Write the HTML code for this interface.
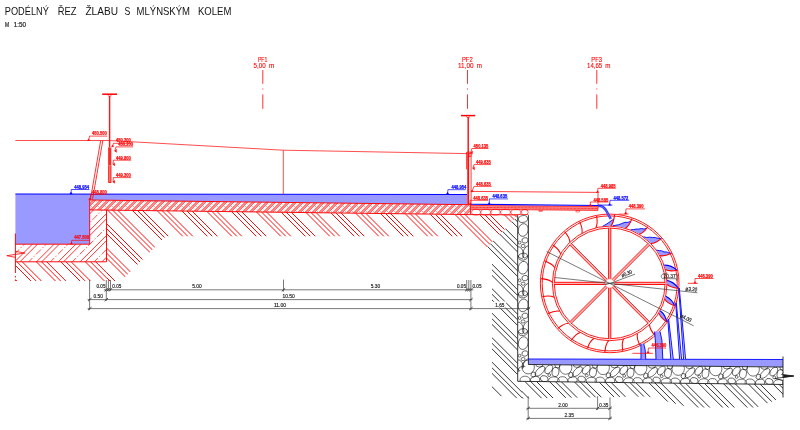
<!DOCTYPE html><html><head><meta charset="utf-8"><title>Podélný řez žlabu s mlýnským kolem</title><style>html,body{margin:0;padding:0;background:#fff;}body{width:800px;height:430px;overflow:hidden;font-family:"Liberation Sans",sans-serif;}svg{display:block;will-change:transform;transform:translateZ(0);}</style></head><body><svg width="800" height="430" viewBox="0 0 800 430" font-family="'Liberation Sans', sans-serif" shape-rendering="geometricPrecision"><defs><clipPath id="cSlab"><polygon points="89.70,200.00 470.40,204.70 470.40,214.60 89.70,209.90"/></clipPath><clipPath id="cLow"><polygon points="15.40,244.20 89.70,244.20 89.70,209.90 106.50,210.11 106.50,261.80 15.40,261.80"/></clipPath><clipPath id="cG1"><polygon points="106.50,210.11 517.70,215.48 517.70,216.30 486.60,247.40 475.40,236.20 165.80,236.20 121.00,281.00 106.50,281.00"/></clipPath><clipPath id="cG0"><polygon points="15.40,261.80 106.50,261.80 106.50,281.00 15.40,281.00"/></clipPath><clipPath id="cGB"><polygon points="517.70,216.30 486.60,247.40 492.00,252.80 492.00,390.50 497.00,395.50 521.00,398.50 522.00,398.50 522.00,381.30 517.70,381.30"/></clipPath><clipPath id="cGF"><polygon points="522.00,381.30 522.00,398.50 648.00,396.50 690.00,407.50 756.00,407.50 783.00,397.50 783.00,384.48"/></clipPath><clipPath id="cWall"><polygon points="517.70,215.00 528.40,215.00 528.40,364.50 783.00,367.05 783.00,384.48 517.70,381.30"/></clipPath><clipPath id="cWallV"><polygon points="517.70,215.00 528.40,215.00 528.40,363.50 517.70,373.50"/></clipPath></defs><rect x="15.4" y="194.0" width="74.30" height="50.20" fill="#9999ff"/>
<polygon points="89.70,194.00 467.00,194.50 467.00,204.66 89.70,200.00" stroke="none" stroke-width="0" fill="#9999ff" />
<polygon points="528.40,359.00 783.00,359.50 783.00,367.05 528.40,364.50" stroke="none" stroke-width="0" fill="#9999ff" />
<g clip-path="url(#cSlab)">
<line x1="62.50" y1="217.00" x2="81.50" y2="198.00" stroke="#ff0000" stroke-width="1.0" />
<line x1="64.60" y1="217.00" x2="83.60" y2="198.00" stroke="#ff0000" stroke-width="1.0" />
<line x1="67.10" y1="217.00" x2="86.10" y2="198.00" stroke="#ff0000" stroke-width="0.4" stroke-dasharray="1.6 2.4 0.5 2.4"/>
<line x1="69.50" y1="217.00" x2="88.50" y2="198.00" stroke="#ff0000" stroke-width="1.0" />
<line x1="71.60" y1="217.00" x2="90.60" y2="198.00" stroke="#ff0000" stroke-width="1.0" />
<line x1="74.10" y1="217.00" x2="93.10" y2="198.00" stroke="#ff0000" stroke-width="0.4" stroke-dasharray="1.6 2.4 0.5 2.4"/>
<line x1="76.50" y1="217.00" x2="95.50" y2="198.00" stroke="#ff0000" stroke-width="1.0" />
<line x1="78.60" y1="217.00" x2="97.60" y2="198.00" stroke="#ff0000" stroke-width="1.0" />
<line x1="81.10" y1="217.00" x2="100.10" y2="198.00" stroke="#ff0000" stroke-width="0.4" stroke-dasharray="1.6 2.4 0.5 2.4"/>
<line x1="83.50" y1="217.00" x2="102.50" y2="198.00" stroke="#ff0000" stroke-width="1.0" />
<line x1="85.60" y1="217.00" x2="104.60" y2="198.00" stroke="#ff0000" stroke-width="1.0" />
<line x1="88.10" y1="217.00" x2="107.10" y2="198.00" stroke="#ff0000" stroke-width="0.4" stroke-dasharray="1.6 2.4 0.5 2.4"/>
<line x1="90.50" y1="217.00" x2="109.50" y2="198.00" stroke="#ff0000" stroke-width="1.0" />
<line x1="92.60" y1="217.00" x2="111.60" y2="198.00" stroke="#ff0000" stroke-width="1.0" />
<line x1="95.10" y1="217.00" x2="114.10" y2="198.00" stroke="#ff0000" stroke-width="0.4" stroke-dasharray="1.6 2.4 0.5 2.4"/>
<line x1="97.50" y1="217.00" x2="116.50" y2="198.00" stroke="#ff0000" stroke-width="1.0" />
<line x1="99.60" y1="217.00" x2="118.60" y2="198.00" stroke="#ff0000" stroke-width="1.0" />
<line x1="102.10" y1="217.00" x2="121.10" y2="198.00" stroke="#ff0000" stroke-width="0.4" stroke-dasharray="1.6 2.4 0.5 2.4"/>
<line x1="104.50" y1="217.00" x2="123.50" y2="198.00" stroke="#ff0000" stroke-width="1.0" />
<line x1="106.60" y1="217.00" x2="125.60" y2="198.00" stroke="#ff0000" stroke-width="1.0" />
<line x1="109.10" y1="217.00" x2="128.10" y2="198.00" stroke="#ff0000" stroke-width="0.4" stroke-dasharray="1.6 2.4 0.5 2.4"/>
<line x1="111.50" y1="217.00" x2="130.50" y2="198.00" stroke="#ff0000" stroke-width="1.0" />
<line x1="113.60" y1="217.00" x2="132.60" y2="198.00" stroke="#ff0000" stroke-width="1.0" />
<line x1="116.10" y1="217.00" x2="135.10" y2="198.00" stroke="#ff0000" stroke-width="0.4" stroke-dasharray="1.6 2.4 0.5 2.4"/>
<line x1="118.50" y1="217.00" x2="137.50" y2="198.00" stroke="#ff0000" stroke-width="1.0" />
<line x1="120.60" y1="217.00" x2="139.60" y2="198.00" stroke="#ff0000" stroke-width="1.0" />
<line x1="123.10" y1="217.00" x2="142.10" y2="198.00" stroke="#ff0000" stroke-width="0.4" stroke-dasharray="1.6 2.4 0.5 2.4"/>
<line x1="125.50" y1="217.00" x2="144.50" y2="198.00" stroke="#ff0000" stroke-width="1.0" />
<line x1="127.60" y1="217.00" x2="146.60" y2="198.00" stroke="#ff0000" stroke-width="1.0" />
<line x1="130.10" y1="217.00" x2="149.10" y2="198.00" stroke="#ff0000" stroke-width="0.4" stroke-dasharray="1.6 2.4 0.5 2.4"/>
<line x1="132.50" y1="217.00" x2="151.50" y2="198.00" stroke="#ff0000" stroke-width="1.0" />
<line x1="134.60" y1="217.00" x2="153.60" y2="198.00" stroke="#ff0000" stroke-width="1.0" />
<line x1="137.10" y1="217.00" x2="156.10" y2="198.00" stroke="#ff0000" stroke-width="0.4" stroke-dasharray="1.6 2.4 0.5 2.4"/>
<line x1="139.50" y1="217.00" x2="158.50" y2="198.00" stroke="#ff0000" stroke-width="1.0" />
<line x1="141.60" y1="217.00" x2="160.60" y2="198.00" stroke="#ff0000" stroke-width="1.0" />
<line x1="144.10" y1="217.00" x2="163.10" y2="198.00" stroke="#ff0000" stroke-width="0.4" stroke-dasharray="1.6 2.4 0.5 2.4"/>
<line x1="146.50" y1="217.00" x2="165.50" y2="198.00" stroke="#ff0000" stroke-width="1.0" />
<line x1="148.60" y1="217.00" x2="167.60" y2="198.00" stroke="#ff0000" stroke-width="1.0" />
<line x1="151.10" y1="217.00" x2="170.10" y2="198.00" stroke="#ff0000" stroke-width="0.4" stroke-dasharray="1.6 2.4 0.5 2.4"/>
<line x1="153.50" y1="217.00" x2="172.50" y2="198.00" stroke="#ff0000" stroke-width="1.0" />
<line x1="155.60" y1="217.00" x2="174.60" y2="198.00" stroke="#ff0000" stroke-width="1.0" />
<line x1="158.10" y1="217.00" x2="177.10" y2="198.00" stroke="#ff0000" stroke-width="0.4" stroke-dasharray="1.6 2.4 0.5 2.4"/>
<line x1="160.50" y1="217.00" x2="179.50" y2="198.00" stroke="#ff0000" stroke-width="1.0" />
<line x1="162.60" y1="217.00" x2="181.60" y2="198.00" stroke="#ff0000" stroke-width="1.0" />
<line x1="165.10" y1="217.00" x2="184.10" y2="198.00" stroke="#ff0000" stroke-width="0.4" stroke-dasharray="1.6 2.4 0.5 2.4"/>
<line x1="167.50" y1="217.00" x2="186.50" y2="198.00" stroke="#ff0000" stroke-width="1.0" />
<line x1="169.60" y1="217.00" x2="188.60" y2="198.00" stroke="#ff0000" stroke-width="1.0" />
<line x1="172.10" y1="217.00" x2="191.10" y2="198.00" stroke="#ff0000" stroke-width="0.4" stroke-dasharray="1.6 2.4 0.5 2.4"/>
<line x1="174.50" y1="217.00" x2="193.50" y2="198.00" stroke="#ff0000" stroke-width="1.0" />
<line x1="176.60" y1="217.00" x2="195.60" y2="198.00" stroke="#ff0000" stroke-width="1.0" />
<line x1="179.10" y1="217.00" x2="198.10" y2="198.00" stroke="#ff0000" stroke-width="0.4" stroke-dasharray="1.6 2.4 0.5 2.4"/>
<line x1="181.50" y1="217.00" x2="200.50" y2="198.00" stroke="#ff0000" stroke-width="1.0" />
<line x1="183.60" y1="217.00" x2="202.60" y2="198.00" stroke="#ff0000" stroke-width="1.0" />
<line x1="186.10" y1="217.00" x2="205.10" y2="198.00" stroke="#ff0000" stroke-width="0.4" stroke-dasharray="1.6 2.4 0.5 2.4"/>
<line x1="188.50" y1="217.00" x2="207.50" y2="198.00" stroke="#ff0000" stroke-width="1.0" />
<line x1="190.60" y1="217.00" x2="209.60" y2="198.00" stroke="#ff0000" stroke-width="1.0" />
<line x1="193.10" y1="217.00" x2="212.10" y2="198.00" stroke="#ff0000" stroke-width="0.4" stroke-dasharray="1.6 2.4 0.5 2.4"/>
<line x1="195.50" y1="217.00" x2="214.50" y2="198.00" stroke="#ff0000" stroke-width="1.0" />
<line x1="197.60" y1="217.00" x2="216.60" y2="198.00" stroke="#ff0000" stroke-width="1.0" />
<line x1="200.10" y1="217.00" x2="219.10" y2="198.00" stroke="#ff0000" stroke-width="0.4" stroke-dasharray="1.6 2.4 0.5 2.4"/>
<line x1="202.50" y1="217.00" x2="221.50" y2="198.00" stroke="#ff0000" stroke-width="1.0" />
<line x1="204.60" y1="217.00" x2="223.60" y2="198.00" stroke="#ff0000" stroke-width="1.0" />
<line x1="207.10" y1="217.00" x2="226.10" y2="198.00" stroke="#ff0000" stroke-width="0.4" stroke-dasharray="1.6 2.4 0.5 2.4"/>
<line x1="209.50" y1="217.00" x2="228.50" y2="198.00" stroke="#ff0000" stroke-width="1.0" />
<line x1="211.60" y1="217.00" x2="230.60" y2="198.00" stroke="#ff0000" stroke-width="1.0" />
<line x1="214.10" y1="217.00" x2="233.10" y2="198.00" stroke="#ff0000" stroke-width="0.4" stroke-dasharray="1.6 2.4 0.5 2.4"/>
<line x1="216.50" y1="217.00" x2="235.50" y2="198.00" stroke="#ff0000" stroke-width="1.0" />
<line x1="218.60" y1="217.00" x2="237.60" y2="198.00" stroke="#ff0000" stroke-width="1.0" />
<line x1="221.10" y1="217.00" x2="240.10" y2="198.00" stroke="#ff0000" stroke-width="0.4" stroke-dasharray="1.6 2.4 0.5 2.4"/>
<line x1="223.50" y1="217.00" x2="242.50" y2="198.00" stroke="#ff0000" stroke-width="1.0" />
<line x1="225.60" y1="217.00" x2="244.60" y2="198.00" stroke="#ff0000" stroke-width="1.0" />
<line x1="228.10" y1="217.00" x2="247.10" y2="198.00" stroke="#ff0000" stroke-width="0.4" stroke-dasharray="1.6 2.4 0.5 2.4"/>
<line x1="230.50" y1="217.00" x2="249.50" y2="198.00" stroke="#ff0000" stroke-width="1.0" />
<line x1="232.60" y1="217.00" x2="251.60" y2="198.00" stroke="#ff0000" stroke-width="1.0" />
<line x1="235.10" y1="217.00" x2="254.10" y2="198.00" stroke="#ff0000" stroke-width="0.4" stroke-dasharray="1.6 2.4 0.5 2.4"/>
<line x1="237.50" y1="217.00" x2="256.50" y2="198.00" stroke="#ff0000" stroke-width="1.0" />
<line x1="239.60" y1="217.00" x2="258.60" y2="198.00" stroke="#ff0000" stroke-width="1.0" />
<line x1="242.10" y1="217.00" x2="261.10" y2="198.00" stroke="#ff0000" stroke-width="0.4" stroke-dasharray="1.6 2.4 0.5 2.4"/>
<line x1="244.50" y1="217.00" x2="263.50" y2="198.00" stroke="#ff0000" stroke-width="1.0" />
<line x1="246.60" y1="217.00" x2="265.60" y2="198.00" stroke="#ff0000" stroke-width="1.0" />
<line x1="249.10" y1="217.00" x2="268.10" y2="198.00" stroke="#ff0000" stroke-width="0.4" stroke-dasharray="1.6 2.4 0.5 2.4"/>
<line x1="251.50" y1="217.00" x2="270.50" y2="198.00" stroke="#ff0000" stroke-width="1.0" />
<line x1="253.60" y1="217.00" x2="272.60" y2="198.00" stroke="#ff0000" stroke-width="1.0" />
<line x1="256.10" y1="217.00" x2="275.10" y2="198.00" stroke="#ff0000" stroke-width="0.4" stroke-dasharray="1.6 2.4 0.5 2.4"/>
<line x1="258.50" y1="217.00" x2="277.50" y2="198.00" stroke="#ff0000" stroke-width="1.0" />
<line x1="260.60" y1="217.00" x2="279.60" y2="198.00" stroke="#ff0000" stroke-width="1.0" />
<line x1="263.10" y1="217.00" x2="282.10" y2="198.00" stroke="#ff0000" stroke-width="0.4" stroke-dasharray="1.6 2.4 0.5 2.4"/>
<line x1="265.50" y1="217.00" x2="284.50" y2="198.00" stroke="#ff0000" stroke-width="1.0" />
<line x1="267.60" y1="217.00" x2="286.60" y2="198.00" stroke="#ff0000" stroke-width="1.0" />
<line x1="270.10" y1="217.00" x2="289.10" y2="198.00" stroke="#ff0000" stroke-width="0.4" stroke-dasharray="1.6 2.4 0.5 2.4"/>
<line x1="272.50" y1="217.00" x2="291.50" y2="198.00" stroke="#ff0000" stroke-width="1.0" />
<line x1="274.60" y1="217.00" x2="293.60" y2="198.00" stroke="#ff0000" stroke-width="1.0" />
<line x1="277.10" y1="217.00" x2="296.10" y2="198.00" stroke="#ff0000" stroke-width="0.4" stroke-dasharray="1.6 2.4 0.5 2.4"/>
<line x1="279.50" y1="217.00" x2="298.50" y2="198.00" stroke="#ff0000" stroke-width="1.0" />
<line x1="281.60" y1="217.00" x2="300.60" y2="198.00" stroke="#ff0000" stroke-width="1.0" />
<line x1="284.10" y1="217.00" x2="303.10" y2="198.00" stroke="#ff0000" stroke-width="0.4" stroke-dasharray="1.6 2.4 0.5 2.4"/>
<line x1="286.50" y1="217.00" x2="305.50" y2="198.00" stroke="#ff0000" stroke-width="1.0" />
<line x1="288.60" y1="217.00" x2="307.60" y2="198.00" stroke="#ff0000" stroke-width="1.0" />
<line x1="291.10" y1="217.00" x2="310.10" y2="198.00" stroke="#ff0000" stroke-width="0.4" stroke-dasharray="1.6 2.4 0.5 2.4"/>
<line x1="293.50" y1="217.00" x2="312.50" y2="198.00" stroke="#ff0000" stroke-width="1.0" />
<line x1="295.60" y1="217.00" x2="314.60" y2="198.00" stroke="#ff0000" stroke-width="1.0" />
<line x1="298.10" y1="217.00" x2="317.10" y2="198.00" stroke="#ff0000" stroke-width="0.4" stroke-dasharray="1.6 2.4 0.5 2.4"/>
<line x1="300.50" y1="217.00" x2="319.50" y2="198.00" stroke="#ff0000" stroke-width="1.0" />
<line x1="302.60" y1="217.00" x2="321.60" y2="198.00" stroke="#ff0000" stroke-width="1.0" />
<line x1="305.10" y1="217.00" x2="324.10" y2="198.00" stroke="#ff0000" stroke-width="0.4" stroke-dasharray="1.6 2.4 0.5 2.4"/>
<line x1="307.50" y1="217.00" x2="326.50" y2="198.00" stroke="#ff0000" stroke-width="1.0" />
<line x1="309.60" y1="217.00" x2="328.60" y2="198.00" stroke="#ff0000" stroke-width="1.0" />
<line x1="312.10" y1="217.00" x2="331.10" y2="198.00" stroke="#ff0000" stroke-width="0.4" stroke-dasharray="1.6 2.4 0.5 2.4"/>
<line x1="314.50" y1="217.00" x2="333.50" y2="198.00" stroke="#ff0000" stroke-width="1.0" />
<line x1="316.60" y1="217.00" x2="335.60" y2="198.00" stroke="#ff0000" stroke-width="1.0" />
<line x1="319.10" y1="217.00" x2="338.10" y2="198.00" stroke="#ff0000" stroke-width="0.4" stroke-dasharray="1.6 2.4 0.5 2.4"/>
<line x1="321.50" y1="217.00" x2="340.50" y2="198.00" stroke="#ff0000" stroke-width="1.0" />
<line x1="323.60" y1="217.00" x2="342.60" y2="198.00" stroke="#ff0000" stroke-width="1.0" />
<line x1="326.10" y1="217.00" x2="345.10" y2="198.00" stroke="#ff0000" stroke-width="0.4" stroke-dasharray="1.6 2.4 0.5 2.4"/>
<line x1="328.50" y1="217.00" x2="347.50" y2="198.00" stroke="#ff0000" stroke-width="1.0" />
<line x1="330.60" y1="217.00" x2="349.60" y2="198.00" stroke="#ff0000" stroke-width="1.0" />
<line x1="333.10" y1="217.00" x2="352.10" y2="198.00" stroke="#ff0000" stroke-width="0.4" stroke-dasharray="1.6 2.4 0.5 2.4"/>
<line x1="335.50" y1="217.00" x2="354.50" y2="198.00" stroke="#ff0000" stroke-width="1.0" />
<line x1="337.60" y1="217.00" x2="356.60" y2="198.00" stroke="#ff0000" stroke-width="1.0" />
<line x1="340.10" y1="217.00" x2="359.10" y2="198.00" stroke="#ff0000" stroke-width="0.4" stroke-dasharray="1.6 2.4 0.5 2.4"/>
<line x1="342.50" y1="217.00" x2="361.50" y2="198.00" stroke="#ff0000" stroke-width="1.0" />
<line x1="344.60" y1="217.00" x2="363.60" y2="198.00" stroke="#ff0000" stroke-width="1.0" />
<line x1="347.10" y1="217.00" x2="366.10" y2="198.00" stroke="#ff0000" stroke-width="0.4" stroke-dasharray="1.6 2.4 0.5 2.4"/>
<line x1="349.50" y1="217.00" x2="368.50" y2="198.00" stroke="#ff0000" stroke-width="1.0" />
<line x1="351.60" y1="217.00" x2="370.60" y2="198.00" stroke="#ff0000" stroke-width="1.0" />
<line x1="354.10" y1="217.00" x2="373.10" y2="198.00" stroke="#ff0000" stroke-width="0.4" stroke-dasharray="1.6 2.4 0.5 2.4"/>
<line x1="356.50" y1="217.00" x2="375.50" y2="198.00" stroke="#ff0000" stroke-width="1.0" />
<line x1="358.60" y1="217.00" x2="377.60" y2="198.00" stroke="#ff0000" stroke-width="1.0" />
<line x1="361.10" y1="217.00" x2="380.10" y2="198.00" stroke="#ff0000" stroke-width="0.4" stroke-dasharray="1.6 2.4 0.5 2.4"/>
<line x1="363.50" y1="217.00" x2="382.50" y2="198.00" stroke="#ff0000" stroke-width="1.0" />
<line x1="365.60" y1="217.00" x2="384.60" y2="198.00" stroke="#ff0000" stroke-width="1.0" />
<line x1="368.10" y1="217.00" x2="387.10" y2="198.00" stroke="#ff0000" stroke-width="0.4" stroke-dasharray="1.6 2.4 0.5 2.4"/>
<line x1="370.50" y1="217.00" x2="389.50" y2="198.00" stroke="#ff0000" stroke-width="1.0" />
<line x1="372.60" y1="217.00" x2="391.60" y2="198.00" stroke="#ff0000" stroke-width="1.0" />
<line x1="375.10" y1="217.00" x2="394.10" y2="198.00" stroke="#ff0000" stroke-width="0.4" stroke-dasharray="1.6 2.4 0.5 2.4"/>
<line x1="377.50" y1="217.00" x2="396.50" y2="198.00" stroke="#ff0000" stroke-width="1.0" />
<line x1="379.60" y1="217.00" x2="398.60" y2="198.00" stroke="#ff0000" stroke-width="1.0" />
<line x1="382.10" y1="217.00" x2="401.10" y2="198.00" stroke="#ff0000" stroke-width="0.4" stroke-dasharray="1.6 2.4 0.5 2.4"/>
<line x1="384.50" y1="217.00" x2="403.50" y2="198.00" stroke="#ff0000" stroke-width="1.0" />
<line x1="386.60" y1="217.00" x2="405.60" y2="198.00" stroke="#ff0000" stroke-width="1.0" />
<line x1="389.10" y1="217.00" x2="408.10" y2="198.00" stroke="#ff0000" stroke-width="0.4" stroke-dasharray="1.6 2.4 0.5 2.4"/>
<line x1="391.50" y1="217.00" x2="410.50" y2="198.00" stroke="#ff0000" stroke-width="1.0" />
<line x1="393.60" y1="217.00" x2="412.60" y2="198.00" stroke="#ff0000" stroke-width="1.0" />
<line x1="396.10" y1="217.00" x2="415.10" y2="198.00" stroke="#ff0000" stroke-width="0.4" stroke-dasharray="1.6 2.4 0.5 2.4"/>
<line x1="398.50" y1="217.00" x2="417.50" y2="198.00" stroke="#ff0000" stroke-width="1.0" />
<line x1="400.60" y1="217.00" x2="419.60" y2="198.00" stroke="#ff0000" stroke-width="1.0" />
<line x1="403.10" y1="217.00" x2="422.10" y2="198.00" stroke="#ff0000" stroke-width="0.4" stroke-dasharray="1.6 2.4 0.5 2.4"/>
<line x1="405.50" y1="217.00" x2="424.50" y2="198.00" stroke="#ff0000" stroke-width="1.0" />
<line x1="407.60" y1="217.00" x2="426.60" y2="198.00" stroke="#ff0000" stroke-width="1.0" />
<line x1="410.10" y1="217.00" x2="429.10" y2="198.00" stroke="#ff0000" stroke-width="0.4" stroke-dasharray="1.6 2.4 0.5 2.4"/>
<line x1="412.50" y1="217.00" x2="431.50" y2="198.00" stroke="#ff0000" stroke-width="1.0" />
<line x1="414.60" y1="217.00" x2="433.60" y2="198.00" stroke="#ff0000" stroke-width="1.0" />
<line x1="417.10" y1="217.00" x2="436.10" y2="198.00" stroke="#ff0000" stroke-width="0.4" stroke-dasharray="1.6 2.4 0.5 2.4"/>
<line x1="419.50" y1="217.00" x2="438.50" y2="198.00" stroke="#ff0000" stroke-width="1.0" />
<line x1="421.60" y1="217.00" x2="440.60" y2="198.00" stroke="#ff0000" stroke-width="1.0" />
<line x1="424.10" y1="217.00" x2="443.10" y2="198.00" stroke="#ff0000" stroke-width="0.4" stroke-dasharray="1.6 2.4 0.5 2.4"/>
<line x1="426.50" y1="217.00" x2="445.50" y2="198.00" stroke="#ff0000" stroke-width="1.0" />
<line x1="428.60" y1="217.00" x2="447.60" y2="198.00" stroke="#ff0000" stroke-width="1.0" />
<line x1="431.10" y1="217.00" x2="450.10" y2="198.00" stroke="#ff0000" stroke-width="0.4" stroke-dasharray="1.6 2.4 0.5 2.4"/>
<line x1="433.50" y1="217.00" x2="452.50" y2="198.00" stroke="#ff0000" stroke-width="1.0" />
<line x1="435.60" y1="217.00" x2="454.60" y2="198.00" stroke="#ff0000" stroke-width="1.0" />
<line x1="438.10" y1="217.00" x2="457.10" y2="198.00" stroke="#ff0000" stroke-width="0.4" stroke-dasharray="1.6 2.4 0.5 2.4"/>
<line x1="440.50" y1="217.00" x2="459.50" y2="198.00" stroke="#ff0000" stroke-width="1.0" />
<line x1="442.60" y1="217.00" x2="461.60" y2="198.00" stroke="#ff0000" stroke-width="1.0" />
<line x1="445.10" y1="217.00" x2="464.10" y2="198.00" stroke="#ff0000" stroke-width="0.4" stroke-dasharray="1.6 2.4 0.5 2.4"/>
<line x1="447.50" y1="217.00" x2="466.50" y2="198.00" stroke="#ff0000" stroke-width="1.0" />
<line x1="449.60" y1="217.00" x2="468.60" y2="198.00" stroke="#ff0000" stroke-width="1.0" />
<line x1="452.10" y1="217.00" x2="471.10" y2="198.00" stroke="#ff0000" stroke-width="0.4" stroke-dasharray="1.6 2.4 0.5 2.4"/>
<line x1="454.50" y1="217.00" x2="473.50" y2="198.00" stroke="#ff0000" stroke-width="1.0" />
<line x1="456.60" y1="217.00" x2="475.60" y2="198.00" stroke="#ff0000" stroke-width="1.0" />
<line x1="459.10" y1="217.00" x2="478.10" y2="198.00" stroke="#ff0000" stroke-width="0.4" stroke-dasharray="1.6 2.4 0.5 2.4"/>
<line x1="461.50" y1="217.00" x2="480.50" y2="198.00" stroke="#ff0000" stroke-width="1.0" />
<line x1="463.60" y1="217.00" x2="482.60" y2="198.00" stroke="#ff0000" stroke-width="1.0" />
<line x1="466.10" y1="217.00" x2="485.10" y2="198.00" stroke="#ff0000" stroke-width="0.4" stroke-dasharray="1.6 2.4 0.5 2.4"/>
<line x1="468.50" y1="217.00" x2="487.50" y2="198.00" stroke="#ff0000" stroke-width="1.0" />
<line x1="470.60" y1="217.00" x2="489.60" y2="198.00" stroke="#ff0000" stroke-width="1.0" />
<line x1="473.10" y1="217.00" x2="492.10" y2="198.00" stroke="#ff0000" stroke-width="0.4" stroke-dasharray="1.6 2.4 0.5 2.4"/>
</g>
<g clip-path="url(#cLow)">
<line x1="-51.90" y1="263.00" x2="3.10" y2="208.00" stroke="#ff0000" stroke-width="0.8" />
<line x1="-46.70" y1="263.00" x2="8.30" y2="208.00" stroke="#ff0000" stroke-width="0.8" />
<line x1="-37.90" y1="263.00" x2="17.10" y2="208.00" stroke="#ff0000" stroke-width="0.7" stroke-dasharray="7 2 1.2 2"/>
<line x1="-30.10" y1="263.00" x2="24.90" y2="208.00" stroke="#ff0000" stroke-width="0.8" />
<line x1="-24.90" y1="263.00" x2="30.10" y2="208.00" stroke="#ff0000" stroke-width="0.8" />
<line x1="-16.10" y1="263.00" x2="38.90" y2="208.00" stroke="#ff0000" stroke-width="0.7" stroke-dasharray="7 2 1.2 2"/>
<line x1="-8.30" y1="263.00" x2="46.70" y2="208.00" stroke="#ff0000" stroke-width="0.8" />
<line x1="-3.10" y1="263.00" x2="51.90" y2="208.00" stroke="#ff0000" stroke-width="0.8" />
<line x1="5.70" y1="263.00" x2="60.70" y2="208.00" stroke="#ff0000" stroke-width="0.7" stroke-dasharray="7 2 1.2 2"/>
<line x1="13.50" y1="263.00" x2="68.50" y2="208.00" stroke="#ff0000" stroke-width="0.8" />
<line x1="18.70" y1="263.00" x2="73.70" y2="208.00" stroke="#ff0000" stroke-width="0.8" />
<line x1="27.50" y1="263.00" x2="82.50" y2="208.00" stroke="#ff0000" stroke-width="0.7" stroke-dasharray="7 2 1.2 2"/>
<line x1="35.30" y1="263.00" x2="90.30" y2="208.00" stroke="#ff0000" stroke-width="0.8" />
<line x1="40.50" y1="263.00" x2="95.50" y2="208.00" stroke="#ff0000" stroke-width="0.8" />
<line x1="49.30" y1="263.00" x2="104.30" y2="208.00" stroke="#ff0000" stroke-width="0.7" stroke-dasharray="7 2 1.2 2"/>
<line x1="57.10" y1="263.00" x2="112.10" y2="208.00" stroke="#ff0000" stroke-width="0.8" />
<line x1="62.30" y1="263.00" x2="117.30" y2="208.00" stroke="#ff0000" stroke-width="0.8" />
<line x1="71.10" y1="263.00" x2="126.10" y2="208.00" stroke="#ff0000" stroke-width="0.7" stroke-dasharray="7 2 1.2 2"/>
<line x1="78.90" y1="263.00" x2="133.90" y2="208.00" stroke="#ff0000" stroke-width="0.8" />
<line x1="84.10" y1="263.00" x2="139.10" y2="208.00" stroke="#ff0000" stroke-width="0.8" />
<line x1="92.90" y1="263.00" x2="147.90" y2="208.00" stroke="#ff0000" stroke-width="0.7" stroke-dasharray="7 2 1.2 2"/>
<line x1="100.70" y1="263.00" x2="155.70" y2="208.00" stroke="#ff0000" stroke-width="0.8" />
<line x1="105.90" y1="263.00" x2="160.90" y2="208.00" stroke="#ff0000" stroke-width="0.8" />
<line x1="114.70" y1="263.00" x2="169.70" y2="208.00" stroke="#ff0000" stroke-width="0.7" stroke-dasharray="7 2 1.2 2"/>
</g>
<g clip-path="url(#cGB)">
<line x1="260.10" y1="215.00" x2="455.10" y2="410.00" stroke="#111" stroke-width="0.85" />
<line x1="265.70" y1="215.00" x2="460.70" y2="410.00" stroke="#111" stroke-width="0.85" />
<line x1="271.30" y1="215.00" x2="466.30" y2="410.00" stroke="#111" stroke-width="0.85" />
<line x1="284.60" y1="215.00" x2="479.60" y2="410.00" stroke="#111" stroke-width="0.85" />
<line x1="290.20" y1="215.00" x2="485.20" y2="410.00" stroke="#111" stroke-width="0.85" />
<line x1="295.80" y1="215.00" x2="490.80" y2="410.00" stroke="#111" stroke-width="0.85" />
<line x1="309.10" y1="215.00" x2="504.10" y2="410.00" stroke="#111" stroke-width="0.85" />
<line x1="314.70" y1="215.00" x2="509.70" y2="410.00" stroke="#111" stroke-width="0.85" />
<line x1="320.30" y1="215.00" x2="515.30" y2="410.00" stroke="#111" stroke-width="0.85" />
<line x1="333.60" y1="215.00" x2="528.60" y2="410.00" stroke="#111" stroke-width="0.85" />
<line x1="339.20" y1="215.00" x2="534.20" y2="410.00" stroke="#111" stroke-width="0.85" />
<line x1="344.80" y1="215.00" x2="539.80" y2="410.00" stroke="#111" stroke-width="0.85" />
<line x1="358.10" y1="215.00" x2="553.10" y2="410.00" stroke="#111" stroke-width="0.85" />
<line x1="363.70" y1="215.00" x2="558.70" y2="410.00" stroke="#111" stroke-width="0.85" />
<line x1="369.30" y1="215.00" x2="564.30" y2="410.00" stroke="#111" stroke-width="0.85" />
<line x1="382.60" y1="215.00" x2="577.60" y2="410.00" stroke="#111" stroke-width="0.85" />
<line x1="388.20" y1="215.00" x2="583.20" y2="410.00" stroke="#111" stroke-width="0.85" />
<line x1="393.80" y1="215.00" x2="588.80" y2="410.00" stroke="#111" stroke-width="0.85" />
<line x1="407.10" y1="215.00" x2="602.10" y2="410.00" stroke="#111" stroke-width="0.85" />
<line x1="412.70" y1="215.00" x2="607.70" y2="410.00" stroke="#111" stroke-width="0.85" />
<line x1="418.30" y1="215.00" x2="613.30" y2="410.00" stroke="#111" stroke-width="0.85" />
<line x1="431.60" y1="215.00" x2="626.60" y2="410.00" stroke="#111" stroke-width="0.85" />
<line x1="437.20" y1="215.00" x2="632.20" y2="410.00" stroke="#111" stroke-width="0.85" />
<line x1="442.80" y1="215.00" x2="637.80" y2="410.00" stroke="#111" stroke-width="0.85" />
<line x1="456.10" y1="215.00" x2="651.10" y2="410.00" stroke="#111" stroke-width="0.85" />
<line x1="461.70" y1="215.00" x2="656.70" y2="410.00" stroke="#111" stroke-width="0.85" />
<line x1="467.30" y1="215.00" x2="662.30" y2="410.00" stroke="#111" stroke-width="0.85" />
<line x1="480.60" y1="215.00" x2="675.60" y2="410.00" stroke="#111" stroke-width="0.85" />
<line x1="486.20" y1="215.00" x2="681.20" y2="410.00" stroke="#111" stroke-width="0.85" />
<line x1="491.80" y1="215.00" x2="686.80" y2="410.00" stroke="#111" stroke-width="0.85" />
<line x1="505.10" y1="215.00" x2="700.10" y2="410.00" stroke="#111" stroke-width="0.85" />
<line x1="510.70" y1="215.00" x2="705.70" y2="410.00" stroke="#111" stroke-width="0.85" />
<line x1="516.30" y1="215.00" x2="711.30" y2="410.00" stroke="#111" stroke-width="0.85" />
<line x1="529.60" y1="215.00" x2="724.60" y2="410.00" stroke="#111" stroke-width="0.85" />
<line x1="535.20" y1="215.00" x2="730.20" y2="410.00" stroke="#111" stroke-width="0.85" />
<line x1="540.80" y1="215.00" x2="735.80" y2="410.00" stroke="#111" stroke-width="0.85" />
<line x1="554.10" y1="215.00" x2="749.10" y2="410.00" stroke="#111" stroke-width="0.85" />
<line x1="559.70" y1="215.00" x2="754.70" y2="410.00" stroke="#111" stroke-width="0.85" />
<line x1="565.30" y1="215.00" x2="760.30" y2="410.00" stroke="#111" stroke-width="0.85" />
<line x1="578.60" y1="215.00" x2="773.60" y2="410.00" stroke="#111" stroke-width="0.85" />
<line x1="584.20" y1="215.00" x2="779.20" y2="410.00" stroke="#111" stroke-width="0.85" />
<line x1="589.80" y1="215.00" x2="784.80" y2="410.00" stroke="#111" stroke-width="0.85" />
<line x1="603.10" y1="215.00" x2="798.10" y2="410.00" stroke="#111" stroke-width="0.85" />
<line x1="608.70" y1="215.00" x2="803.70" y2="410.00" stroke="#111" stroke-width="0.85" />
<line x1="614.30" y1="215.00" x2="809.30" y2="410.00" stroke="#111" stroke-width="0.85" />
<line x1="627.60" y1="215.00" x2="822.60" y2="410.00" stroke="#111" stroke-width="0.85" />
<line x1="633.20" y1="215.00" x2="828.20" y2="410.00" stroke="#111" stroke-width="0.85" />
<line x1="638.80" y1="215.00" x2="833.80" y2="410.00" stroke="#111" stroke-width="0.85" />
<line x1="652.10" y1="215.00" x2="847.10" y2="410.00" stroke="#111" stroke-width="0.85" />
<line x1="657.70" y1="215.00" x2="852.70" y2="410.00" stroke="#111" stroke-width="0.85" />
<line x1="663.30" y1="215.00" x2="858.30" y2="410.00" stroke="#111" stroke-width="0.85" />
<line x1="676.60" y1="215.00" x2="871.60" y2="410.00" stroke="#111" stroke-width="0.85" />
<line x1="682.20" y1="215.00" x2="877.20" y2="410.00" stroke="#111" stroke-width="0.85" />
<line x1="687.80" y1="215.00" x2="882.80" y2="410.00" stroke="#111" stroke-width="0.85" />
<line x1="701.10" y1="215.00" x2="896.10" y2="410.00" stroke="#111" stroke-width="0.85" />
<line x1="706.70" y1="215.00" x2="901.70" y2="410.00" stroke="#111" stroke-width="0.85" />
<line x1="712.30" y1="215.00" x2="907.30" y2="410.00" stroke="#111" stroke-width="0.85" />
<line x1="725.60" y1="215.00" x2="920.60" y2="410.00" stroke="#111" stroke-width="0.85" />
<line x1="731.20" y1="215.00" x2="926.20" y2="410.00" stroke="#111" stroke-width="0.85" />
<line x1="736.80" y1="215.00" x2="931.80" y2="410.00" stroke="#111" stroke-width="0.85" />
<line x1="750.10" y1="215.00" x2="945.10" y2="410.00" stroke="#111" stroke-width="0.85" />
<line x1="755.70" y1="215.00" x2="950.70" y2="410.00" stroke="#111" stroke-width="0.85" />
<line x1="761.30" y1="215.00" x2="956.30" y2="410.00" stroke="#111" stroke-width="0.85" />
<line x1="774.60" y1="215.00" x2="969.60" y2="410.00" stroke="#111" stroke-width="0.85" />
<line x1="780.20" y1="215.00" x2="975.20" y2="410.00" stroke="#111" stroke-width="0.85" />
<line x1="785.80" y1="215.00" x2="980.80" y2="410.00" stroke="#111" stroke-width="0.85" />
</g>
<g clip-path="url(#cGF)">
<line x1="449.75" y1="380.00" x2="479.75" y2="410.00" stroke="#111" stroke-width="0.85" />
<line x1="455.55" y1="380.00" x2="485.55" y2="410.00" stroke="#111" stroke-width="0.85" />
<line x1="461.35" y1="380.00" x2="491.35" y2="410.00" stroke="#111" stroke-width="0.85" />
<line x1="474.30" y1="380.00" x2="504.30" y2="410.00" stroke="#111" stroke-width="0.85" />
<line x1="480.10" y1="380.00" x2="510.10" y2="410.00" stroke="#111" stroke-width="0.85" />
<line x1="485.90" y1="380.00" x2="515.90" y2="410.00" stroke="#111" stroke-width="0.85" />
<line x1="498.85" y1="380.00" x2="528.85" y2="410.00" stroke="#111" stroke-width="0.85" />
<line x1="504.65" y1="380.00" x2="534.65" y2="410.00" stroke="#111" stroke-width="0.85" />
<line x1="510.45" y1="380.00" x2="540.45" y2="410.00" stroke="#111" stroke-width="0.85" />
<line x1="523.40" y1="380.00" x2="553.40" y2="410.00" stroke="#111" stroke-width="0.85" />
<line x1="529.20" y1="380.00" x2="559.20" y2="410.00" stroke="#111" stroke-width="0.85" />
<line x1="535.00" y1="380.00" x2="565.00" y2="410.00" stroke="#111" stroke-width="0.85" />
<line x1="547.95" y1="380.00" x2="577.95" y2="410.00" stroke="#111" stroke-width="0.85" />
<line x1="553.75" y1="380.00" x2="583.75" y2="410.00" stroke="#111" stroke-width="0.85" />
<line x1="559.55" y1="380.00" x2="589.55" y2="410.00" stroke="#111" stroke-width="0.85" />
<line x1="572.50" y1="380.00" x2="602.50" y2="410.00" stroke="#111" stroke-width="0.85" />
<line x1="578.30" y1="380.00" x2="608.30" y2="410.00" stroke="#111" stroke-width="0.85" />
<line x1="584.10" y1="380.00" x2="614.10" y2="410.00" stroke="#111" stroke-width="0.85" />
<line x1="597.05" y1="380.00" x2="627.05" y2="410.00" stroke="#111" stroke-width="0.85" />
<line x1="602.85" y1="380.00" x2="632.85" y2="410.00" stroke="#111" stroke-width="0.85" />
<line x1="608.65" y1="380.00" x2="638.65" y2="410.00" stroke="#111" stroke-width="0.85" />
<line x1="621.60" y1="380.00" x2="651.60" y2="410.00" stroke="#111" stroke-width="0.85" />
<line x1="627.40" y1="380.00" x2="657.40" y2="410.00" stroke="#111" stroke-width="0.85" />
<line x1="633.20" y1="380.00" x2="663.20" y2="410.00" stroke="#111" stroke-width="0.85" />
<line x1="646.15" y1="380.00" x2="676.15" y2="410.00" stroke="#111" stroke-width="0.85" />
<line x1="651.95" y1="380.00" x2="681.95" y2="410.00" stroke="#111" stroke-width="0.85" />
<line x1="657.75" y1="380.00" x2="687.75" y2="410.00" stroke="#111" stroke-width="0.85" />
<line x1="670.70" y1="380.00" x2="700.70" y2="410.00" stroke="#111" stroke-width="0.85" />
<line x1="676.50" y1="380.00" x2="706.50" y2="410.00" stroke="#111" stroke-width="0.85" />
<line x1="682.30" y1="380.00" x2="712.30" y2="410.00" stroke="#111" stroke-width="0.85" />
<line x1="695.25" y1="380.00" x2="725.25" y2="410.00" stroke="#111" stroke-width="0.85" />
<line x1="701.05" y1="380.00" x2="731.05" y2="410.00" stroke="#111" stroke-width="0.85" />
<line x1="706.85" y1="380.00" x2="736.85" y2="410.00" stroke="#111" stroke-width="0.85" />
<line x1="719.80" y1="380.00" x2="749.80" y2="410.00" stroke="#111" stroke-width="0.85" />
<line x1="725.60" y1="380.00" x2="755.60" y2="410.00" stroke="#111" stroke-width="0.85" />
<line x1="731.40" y1="380.00" x2="761.40" y2="410.00" stroke="#111" stroke-width="0.85" />
<line x1="744.35" y1="380.00" x2="774.35" y2="410.00" stroke="#111" stroke-width="0.85" />
<line x1="750.15" y1="380.00" x2="780.15" y2="410.00" stroke="#111" stroke-width="0.85" />
<line x1="755.95" y1="380.00" x2="785.95" y2="410.00" stroke="#111" stroke-width="0.85" />
<line x1="768.90" y1="380.00" x2="798.90" y2="410.00" stroke="#111" stroke-width="0.85" />
<line x1="774.70" y1="380.00" x2="804.70" y2="410.00" stroke="#111" stroke-width="0.85" />
<line x1="780.50" y1="380.00" x2="810.50" y2="410.00" stroke="#111" stroke-width="0.85" />
</g>
<g clip-path="url(#cG1)">
<line x1="4.50" y1="205.00" x2="81.50" y2="282.00" stroke="#ff0000" stroke-width="0.95" />
<line x1="9.50" y1="205.00" x2="86.50" y2="282.00" stroke="#ff0000" stroke-width="0.95" />
<line x1="14.50" y1="205.00" x2="91.50" y2="282.00" stroke="#ff0000" stroke-width="0.95" />
<line x1="29.00" y1="205.00" x2="106.00" y2="282.00" stroke="#ff0000" stroke-width="0.95" />
<line x1="34.00" y1="205.00" x2="111.00" y2="282.00" stroke="#ff0000" stroke-width="0.95" />
<line x1="39.00" y1="205.00" x2="116.00" y2="282.00" stroke="#ff0000" stroke-width="0.95" />
<line x1="53.50" y1="205.00" x2="130.50" y2="282.00" stroke="#ff0000" stroke-width="0.95" />
<line x1="58.50" y1="205.00" x2="135.50" y2="282.00" stroke="#ff0000" stroke-width="0.95" />
<line x1="63.50" y1="205.00" x2="140.50" y2="282.00" stroke="#ff0000" stroke-width="0.95" />
<line x1="78.00" y1="205.00" x2="155.00" y2="282.00" stroke="#ff0000" stroke-width="0.95" />
<line x1="83.00" y1="205.00" x2="160.00" y2="282.00" stroke="#ff0000" stroke-width="0.95" />
<line x1="88.00" y1="205.00" x2="165.00" y2="282.00" stroke="#ff0000" stroke-width="0.95" />
<line x1="102.50" y1="205.00" x2="179.50" y2="282.00" stroke="#ff0000" stroke-width="0.95" />
<line x1="107.50" y1="205.00" x2="184.50" y2="282.00" stroke="#ff0000" stroke-width="0.95" />
<line x1="112.50" y1="205.00" x2="189.50" y2="282.00" stroke="#ff0000" stroke-width="0.95" />
<line x1="127.00" y1="205.00" x2="204.00" y2="282.00" stroke="#ff0000" stroke-width="0.95" />
<line x1="132.00" y1="205.00" x2="209.00" y2="282.00" stroke="#ff0000" stroke-width="0.95" />
<line x1="137.00" y1="205.00" x2="214.00" y2="282.00" stroke="#ff0000" stroke-width="0.95" />
<line x1="151.50" y1="205.00" x2="228.50" y2="282.00" stroke="#ff0000" stroke-width="0.95" />
<line x1="156.50" y1="205.00" x2="233.50" y2="282.00" stroke="#ff0000" stroke-width="0.95" />
<line x1="161.50" y1="205.00" x2="238.50" y2="282.00" stroke="#ff0000" stroke-width="0.95" />
<line x1="176.00" y1="205.00" x2="253.00" y2="282.00" stroke="#ff0000" stroke-width="0.95" />
<line x1="181.00" y1="205.00" x2="258.00" y2="282.00" stroke="#ff0000" stroke-width="0.95" />
<line x1="186.00" y1="205.00" x2="263.00" y2="282.00" stroke="#ff0000" stroke-width="0.95" />
<line x1="200.50" y1="205.00" x2="277.50" y2="282.00" stroke="#ff0000" stroke-width="0.95" />
<line x1="205.50" y1="205.00" x2="282.50" y2="282.00" stroke="#ff0000" stroke-width="0.95" />
<line x1="210.50" y1="205.00" x2="287.50" y2="282.00" stroke="#ff0000" stroke-width="0.95" />
<line x1="225.00" y1="205.00" x2="302.00" y2="282.00" stroke="#ff0000" stroke-width="0.95" />
<line x1="230.00" y1="205.00" x2="307.00" y2="282.00" stroke="#ff0000" stroke-width="0.95" />
<line x1="235.00" y1="205.00" x2="312.00" y2="282.00" stroke="#ff0000" stroke-width="0.95" />
<line x1="249.50" y1="205.00" x2="326.50" y2="282.00" stroke="#ff0000" stroke-width="0.95" />
<line x1="254.50" y1="205.00" x2="331.50" y2="282.00" stroke="#ff0000" stroke-width="0.95" />
<line x1="259.50" y1="205.00" x2="336.50" y2="282.00" stroke="#ff0000" stroke-width="0.95" />
<line x1="274.00" y1="205.00" x2="351.00" y2="282.00" stroke="#ff0000" stroke-width="0.95" />
<line x1="279.00" y1="205.00" x2="356.00" y2="282.00" stroke="#ff0000" stroke-width="0.95" />
<line x1="284.00" y1="205.00" x2="361.00" y2="282.00" stroke="#ff0000" stroke-width="0.95" />
<line x1="298.50" y1="205.00" x2="375.50" y2="282.00" stroke="#ff0000" stroke-width="0.95" />
<line x1="303.50" y1="205.00" x2="380.50" y2="282.00" stroke="#ff0000" stroke-width="0.95" />
<line x1="308.50" y1="205.00" x2="385.50" y2="282.00" stroke="#ff0000" stroke-width="0.95" />
<line x1="323.00" y1="205.00" x2="400.00" y2="282.00" stroke="#ff0000" stroke-width="0.95" />
<line x1="328.00" y1="205.00" x2="405.00" y2="282.00" stroke="#ff0000" stroke-width="0.95" />
<line x1="333.00" y1="205.00" x2="410.00" y2="282.00" stroke="#ff0000" stroke-width="0.95" />
<line x1="347.50" y1="205.00" x2="424.50" y2="282.00" stroke="#ff0000" stroke-width="0.95" />
<line x1="352.50" y1="205.00" x2="429.50" y2="282.00" stroke="#ff0000" stroke-width="0.95" />
<line x1="357.50" y1="205.00" x2="434.50" y2="282.00" stroke="#ff0000" stroke-width="0.95" />
<line x1="372.00" y1="205.00" x2="449.00" y2="282.00" stroke="#ff0000" stroke-width="0.95" />
<line x1="377.00" y1="205.00" x2="454.00" y2="282.00" stroke="#ff0000" stroke-width="0.95" />
<line x1="382.00" y1="205.00" x2="459.00" y2="282.00" stroke="#ff0000" stroke-width="0.95" />
<line x1="396.50" y1="205.00" x2="473.50" y2="282.00" stroke="#ff0000" stroke-width="0.95" />
<line x1="401.50" y1="205.00" x2="478.50" y2="282.00" stroke="#ff0000" stroke-width="0.95" />
<line x1="406.50" y1="205.00" x2="483.50" y2="282.00" stroke="#ff0000" stroke-width="0.95" />
<line x1="421.00" y1="205.00" x2="498.00" y2="282.00" stroke="#ff0000" stroke-width="0.95" />
<line x1="426.00" y1="205.00" x2="503.00" y2="282.00" stroke="#ff0000" stroke-width="0.95" />
<line x1="431.00" y1="205.00" x2="508.00" y2="282.00" stroke="#ff0000" stroke-width="0.95" />
<line x1="445.50" y1="205.00" x2="522.50" y2="282.00" stroke="#ff0000" stroke-width="0.95" />
<line x1="450.50" y1="205.00" x2="527.50" y2="282.00" stroke="#ff0000" stroke-width="0.95" />
<line x1="455.50" y1="205.00" x2="532.50" y2="282.00" stroke="#ff0000" stroke-width="0.95" />
<line x1="470.00" y1="205.00" x2="547.00" y2="282.00" stroke="#ff0000" stroke-width="0.95" />
<line x1="475.00" y1="205.00" x2="552.00" y2="282.00" stroke="#ff0000" stroke-width="0.95" />
<line x1="480.00" y1="205.00" x2="557.00" y2="282.00" stroke="#ff0000" stroke-width="0.95" />
<line x1="494.50" y1="205.00" x2="571.50" y2="282.00" stroke="#ff0000" stroke-width="0.95" />
<line x1="499.50" y1="205.00" x2="576.50" y2="282.00" stroke="#ff0000" stroke-width="0.95" />
<line x1="504.50" y1="205.00" x2="581.50" y2="282.00" stroke="#ff0000" stroke-width="0.95" />
<line x1="519.00" y1="205.00" x2="596.00" y2="282.00" stroke="#ff0000" stroke-width="0.95" />
<line x1="524.00" y1="205.00" x2="601.00" y2="282.00" stroke="#ff0000" stroke-width="0.95" />
<line x1="529.00" y1="205.00" x2="606.00" y2="282.00" stroke="#ff0000" stroke-width="0.95" />
</g>
<g clip-path="url(#cG0)">
<line x1="-13.50" y1="261.00" x2="7.50" y2="282.00" stroke="#ff0000" stroke-width="0.95" />
<line x1="-8.30" y1="261.00" x2="12.70" y2="282.00" stroke="#ff0000" stroke-width="0.95" />
<line x1="-3.10" y1="261.00" x2="17.90" y2="282.00" stroke="#ff0000" stroke-width="0.95" />
<line x1="11.00" y1="261.00" x2="32.00" y2="282.00" stroke="#ff0000" stroke-width="0.95" />
<line x1="16.20" y1="261.00" x2="37.20" y2="282.00" stroke="#ff0000" stroke-width="0.95" />
<line x1="21.40" y1="261.00" x2="42.40" y2="282.00" stroke="#ff0000" stroke-width="0.95" />
<line x1="35.50" y1="261.00" x2="56.50" y2="282.00" stroke="#ff0000" stroke-width="0.95" />
<line x1="40.70" y1="261.00" x2="61.70" y2="282.00" stroke="#ff0000" stroke-width="0.95" />
<line x1="45.90" y1="261.00" x2="66.90" y2="282.00" stroke="#ff0000" stroke-width="0.95" />
<line x1="60.00" y1="261.00" x2="81.00" y2="282.00" stroke="#ff0000" stroke-width="0.95" />
<line x1="65.20" y1="261.00" x2="86.20" y2="282.00" stroke="#ff0000" stroke-width="0.95" />
<line x1="70.40" y1="261.00" x2="91.40" y2="282.00" stroke="#ff0000" stroke-width="0.95" />
<line x1="84.50" y1="261.00" x2="105.50" y2="282.00" stroke="#ff0000" stroke-width="0.95" />
<line x1="89.70" y1="261.00" x2="110.70" y2="282.00" stroke="#ff0000" stroke-width="0.95" />
<line x1="94.90" y1="261.00" x2="115.90" y2="282.00" stroke="#ff0000" stroke-width="0.95" />
<line x1="109.00" y1="261.00" x2="130.00" y2="282.00" stroke="#ff0000" stroke-width="0.95" />
<line x1="114.20" y1="261.00" x2="135.20" y2="282.00" stroke="#ff0000" stroke-width="0.95" />
<line x1="119.40" y1="261.00" x2="140.40" y2="282.00" stroke="#ff0000" stroke-width="0.95" />
</g>
<polyline points="15.40,244.20 89.70,244.20 89.70,200.00 470.40,204.70" stroke="#ff0000" stroke-width="0.95" fill="none" />
<polyline points="15.40,261.80 106.50,261.80 106.50,210.11" stroke="#ff0000" stroke-width="0.95" fill="none" />
<polyline points="89.70,209.90 470.40,214.60 528.40,214.90" stroke="#ff0000" stroke-width="0.95" fill="none" />
<line x1="470.40" y1="204.70" x2="470.40" y2="214.60" stroke="#ff0000" stroke-width="0.95" />
<line x1="15.40" y1="233.50" x2="15.40" y2="273.00" stroke="#ff0000" stroke-width="0.95" />
<line x1="15.40" y1="276.00" x2="15.40" y2="277.50" stroke="#ff0000" stroke-width="0.95" />
<line x1="15.40" y1="280.00" x2="15.40" y2="281.00" stroke="#ff0000" stroke-width="0.95" />
<polyline points="15.40,251.40 24.90,253.00 6.80,255.70 15.40,257.30" stroke="#ff0000" stroke-width="0.8" fill="none" />
<line x1="15.40" y1="194.00" x2="467.00" y2="194.50" stroke="#0000ff" stroke-width="1.0" />
<polyline points="15.40,140.50 109.00,140.50 283.30,150.20 467.00,153.60" stroke="#ff0000" stroke-width="0.7" fill="none" />
<line x1="283.30" y1="150.20" x2="283.30" y2="194.00" stroke="#ff0000" stroke-width="0.7" />
<line x1="100.70" y1="140.50" x2="90.40" y2="199.50" stroke="#ff0000" stroke-width="0.8" />
<line x1="102.80" y1="140.50" x2="92.50" y2="199.50" stroke="#ff0000" stroke-width="0.8" />
<line x1="102.20" y1="94.20" x2="117.00" y2="94.20" stroke="#ff0000" stroke-width="1.5" />
<polyline points="107.40,94.80 109.60,96.80 111.80,94.80" stroke="#ff0000" stroke-width="0.6" fill="none" />
<line x1="109.60" y1="95.70" x2="109.60" y2="147.50" stroke="#ff1818" stroke-width="1.45" />
<rect x="108.10" y="147.5" width="3.2" height="18.10" fill="#ff2a2a" stroke="none"/>
<rect x="108.60" y="165.6" width="2.4" height="16.90" fill="#ff7a7a" stroke="none"/>
<line x1="108.60" y1="165.60" x2="108.60" y2="182.50" stroke="#ff0000" stroke-width="0.8" />
<line x1="111.00" y1="165.60" x2="111.00" y2="182.50" stroke="#ff0000" stroke-width="0.8" />
<line x1="108.60" y1="182.50" x2="111.00" y2="182.50" stroke="#ff0000" stroke-width="0.9" />
<line x1="461.00" y1="115.60" x2="475.20" y2="115.60" stroke="#ff0000" stroke-width="1.5" />
<polyline points="466.00,116.20 468.20,118.20 470.40,116.20" stroke="#ff0000" stroke-width="0.6" fill="none" />
<line x1="468.20" y1="117.00" x2="468.20" y2="152.20" stroke="#ff1010" stroke-width="1.45" />
<line x1="468.20" y1="152.20" x2="468.20" y2="204.60" stroke="#ff1010" stroke-width="1.9" />
<line x1="466.60" y1="152.20" x2="466.60" y2="169.30" stroke="#ff0000" stroke-width="0.8" />
<line x1="471.10" y1="152.20" x2="471.10" y2="204.60" stroke="#ff0000" stroke-width="0.75" />
<rect x="469.10" y="153.6" width="1.9" height="3.2" fill="none" stroke="#ff0000" stroke-width="0.6"/>
<line x1="466.60" y1="152.20" x2="471.10" y2="152.20" stroke="#ff0000" stroke-width="0.7" />
<polyline points="471.10,191.40 598.00,192.40 598.00,206.00" stroke="#ff0000" stroke-width="0.75" fill="none" />
<polygon points="470.40,205.40 598.00,206.60 598.00,210.40 470.40,209.30" stroke="#ff0000" stroke-width="0.7" fill="#ff8a8a" />
<line x1="470.40" y1="207.35" x2="598.00" y2="208.50" stroke="#ff0000" stroke-width="0.9" stroke-dasharray="0.7 0.7"/>
<rect x="539" y="210.35" width="3.6" height="1.3" fill="none" stroke="#ff0000" stroke-width="0.5"/>
<rect x="576" y="210.69" width="3.6" height="1.3" fill="none" stroke="#ff0000" stroke-width="0.5"/>
<polyline points="470.40,204.30 598.00,205.50" stroke="#0000ff" stroke-width="1.1" fill="none" />
<ellipse cx="476.01" cy="212.20" rx="4.41" ry="2.9" fill="none" stroke="#ff0000" stroke-width="0.6"/>
<ellipse cx="485.68" cy="212.20" rx="4.87" ry="2.9" fill="none" stroke="#ff0000" stroke-width="0.6"/>
<ellipse cx="495.55" cy="212.20" rx="4.60" ry="2.9" fill="none" stroke="#ff0000" stroke-width="0.6"/>
<ellipse cx="505.51" cy="212.20" rx="4.96" ry="2.9" fill="none" stroke="#ff0000" stroke-width="0.6"/>
<ellipse cx="515.86" cy="212.20" rx="4.99" ry="2.9" fill="none" stroke="#ff0000" stroke-width="0.6"/>
<ellipse cx="524.72" cy="212.20" rx="3.48" ry="2.9" fill="none" stroke="#ff0000" stroke-width="0.6"/>
<rect x="517.7" y="215" width="10.70" height="166.30" fill="#fff"/>
<polygon points="517.70,364.50 783.00,367.05 783.00,384.48 517.70,381.30" stroke="none" stroke-width="0" fill="#fff" />
<g clip-path="url(#cWall)">
<ellipse cx="528.15" cy="367.00" rx="6.25" ry="6.9" fill="none" stroke="#000000" stroke-width="0.55" transform="rotate(0 528.15 367.00)"/>
<ellipse cx="540.00" cy="371.22" rx="6.2" ry="3.0" fill="none" stroke="#000000" stroke-width="0.55" transform="rotate(-45 540.00 371.22)"/>
<ellipse cx="548.80" cy="369.30" rx="5.0" ry="3.1" fill="none" stroke="#000000" stroke-width="0.55" transform="rotate(-52 548.80 369.30)"/>
<ellipse cx="549.20" cy="375.11" rx="1.4" ry="1.4" fill="none" stroke="#000000" stroke-width="0.55" transform="rotate(0 549.20 375.11)"/>
<ellipse cx="555.50" cy="371.97" rx="3.4" ry="4.6" fill="none" stroke="#000000" stroke-width="0.55" transform="rotate(10 555.50 371.97)"/>
<ellipse cx="525.00" cy="380.06" rx="5.0" ry="3.9" fill="none" stroke="#000000" stroke-width="0.55" transform="rotate(0 525.00 380.06)"/>
<ellipse cx="535.10" cy="379.78" rx="4.6" ry="3.3" fill="none" stroke="#000000" stroke-width="0.55" transform="rotate(-10 535.10 379.78)"/>
<ellipse cx="544.20" cy="378.70" rx="3.9" ry="3.0" fill="none" stroke="#000000" stroke-width="0.55" transform="rotate(15 544.20 378.70)"/>
<ellipse cx="553.90" cy="380.42" rx="5.3" ry="3.6" fill="none" stroke="#000000" stroke-width="0.55" transform="rotate(0 553.90 380.42)"/>
<ellipse cx="539.40" cy="364.61" rx="3.6" ry="2.4" fill="none" stroke="#000000" stroke-width="0.55" transform="rotate(0 539.40 364.61)"/>
<ellipse cx="557.50" cy="365.19" rx="2.6" ry="2.8" fill="none" stroke="#000000" stroke-width="0.55" transform="rotate(0 557.50 365.19)"/>
<ellipse cx="533.40" cy="374.55" rx="2.2" ry="2.6" fill="none" stroke="#000000" stroke-width="0.55" transform="rotate(30 533.40 374.55)"/>
<ellipse cx="565.65" cy="367.37" rx="6.25" ry="6.9" fill="none" stroke="#000000" stroke-width="0.55" transform="rotate(0 565.65 367.37)"/>
<ellipse cx="577.50" cy="371.59" rx="6.2" ry="3.0" fill="none" stroke="#000000" stroke-width="0.55" transform="rotate(-45 577.50 371.59)"/>
<ellipse cx="586.30" cy="369.68" rx="5.0" ry="3.1" fill="none" stroke="#000000" stroke-width="0.55" transform="rotate(-52 586.30 369.68)"/>
<ellipse cx="586.70" cy="375.48" rx="1.4" ry="1.4" fill="none" stroke="#000000" stroke-width="0.55" transform="rotate(0 586.70 375.48)"/>
<ellipse cx="593.00" cy="372.35" rx="3.4" ry="4.6" fill="none" stroke="#000000" stroke-width="0.55" transform="rotate(10 593.00 372.35)"/>
<ellipse cx="562.50" cy="380.53" rx="5.0" ry="3.9" fill="none" stroke="#000000" stroke-width="0.55" transform="rotate(0 562.50 380.53)"/>
<ellipse cx="572.60" cy="380.25" rx="4.6" ry="3.3" fill="none" stroke="#000000" stroke-width="0.55" transform="rotate(-10 572.60 380.25)"/>
<ellipse cx="581.70" cy="379.17" rx="3.9" ry="3.0" fill="none" stroke="#000000" stroke-width="0.55" transform="rotate(15 581.70 379.17)"/>
<ellipse cx="591.40" cy="380.89" rx="5.3" ry="3.6" fill="none" stroke="#000000" stroke-width="0.55" transform="rotate(0 591.40 380.89)"/>
<ellipse cx="576.90" cy="364.99" rx="3.6" ry="2.4" fill="none" stroke="#000000" stroke-width="0.55" transform="rotate(0 576.90 364.99)"/>
<ellipse cx="595.00" cy="365.57" rx="2.6" ry="2.8" fill="none" stroke="#000000" stroke-width="0.55" transform="rotate(0 595.00 365.57)"/>
<ellipse cx="570.90" cy="374.93" rx="2.2" ry="2.6" fill="none" stroke="#000000" stroke-width="0.55" transform="rotate(30 570.90 374.93)"/>
<ellipse cx="603.15" cy="367.75" rx="6.25" ry="6.9" fill="none" stroke="#000000" stroke-width="0.55" transform="rotate(0 603.15 367.75)"/>
<ellipse cx="615.00" cy="371.97" rx="6.2" ry="3.0" fill="none" stroke="#000000" stroke-width="0.55" transform="rotate(-45 615.00 371.97)"/>
<ellipse cx="623.80" cy="370.05" rx="5.0" ry="3.1" fill="none" stroke="#000000" stroke-width="0.55" transform="rotate(-52 623.80 370.05)"/>
<ellipse cx="624.20" cy="375.86" rx="1.4" ry="1.4" fill="none" stroke="#000000" stroke-width="0.55" transform="rotate(0 624.20 375.86)"/>
<ellipse cx="630.50" cy="372.72" rx="3.4" ry="4.6" fill="none" stroke="#000000" stroke-width="0.55" transform="rotate(10 630.50 372.72)"/>
<ellipse cx="600.00" cy="381.00" rx="5.0" ry="3.9" fill="none" stroke="#000000" stroke-width="0.55" transform="rotate(0 600.00 381.00)"/>
<ellipse cx="610.10" cy="380.72" rx="4.6" ry="3.3" fill="none" stroke="#000000" stroke-width="0.55" transform="rotate(-10 610.10 380.72)"/>
<ellipse cx="619.20" cy="379.63" rx="3.9" ry="3.0" fill="none" stroke="#000000" stroke-width="0.55" transform="rotate(15 619.20 379.63)"/>
<ellipse cx="628.90" cy="381.36" rx="5.3" ry="3.6" fill="none" stroke="#000000" stroke-width="0.55" transform="rotate(0 628.90 381.36)"/>
<ellipse cx="614.40" cy="365.36" rx="3.6" ry="2.4" fill="none" stroke="#000000" stroke-width="0.55" transform="rotate(0 614.40 365.36)"/>
<ellipse cx="632.50" cy="365.94" rx="2.6" ry="2.8" fill="none" stroke="#000000" stroke-width="0.55" transform="rotate(0 632.50 365.94)"/>
<ellipse cx="608.40" cy="375.30" rx="2.2" ry="2.6" fill="none" stroke="#000000" stroke-width="0.55" transform="rotate(30 608.40 375.30)"/>
<ellipse cx="640.65" cy="368.12" rx="6.25" ry="6.9" fill="none" stroke="#000000" stroke-width="0.55" transform="rotate(0 640.65 368.12)"/>
<ellipse cx="652.50" cy="372.34" rx="6.2" ry="3.0" fill="none" stroke="#000000" stroke-width="0.55" transform="rotate(-45 652.50 372.34)"/>
<ellipse cx="661.30" cy="370.43" rx="5.0" ry="3.1" fill="none" stroke="#000000" stroke-width="0.55" transform="rotate(-52 661.30 370.43)"/>
<ellipse cx="661.70" cy="376.23" rx="1.4" ry="1.4" fill="none" stroke="#000000" stroke-width="0.55" transform="rotate(0 661.70 376.23)"/>
<ellipse cx="668.00" cy="373.10" rx="3.4" ry="4.6" fill="none" stroke="#000000" stroke-width="0.55" transform="rotate(10 668.00 373.10)"/>
<ellipse cx="637.50" cy="381.46" rx="5.0" ry="3.9" fill="none" stroke="#000000" stroke-width="0.55" transform="rotate(0 637.50 381.46)"/>
<ellipse cx="647.60" cy="381.19" rx="4.6" ry="3.3" fill="none" stroke="#000000" stroke-width="0.55" transform="rotate(-10 647.60 381.19)"/>
<ellipse cx="656.70" cy="380.10" rx="3.9" ry="3.0" fill="none" stroke="#000000" stroke-width="0.55" transform="rotate(15 656.70 380.10)"/>
<ellipse cx="666.40" cy="381.83" rx="5.3" ry="3.6" fill="none" stroke="#000000" stroke-width="0.55" transform="rotate(0 666.40 381.83)"/>
<ellipse cx="651.90" cy="365.74" rx="3.6" ry="2.4" fill="none" stroke="#000000" stroke-width="0.55" transform="rotate(0 651.90 365.74)"/>
<ellipse cx="670.00" cy="366.32" rx="2.6" ry="2.8" fill="none" stroke="#000000" stroke-width="0.55" transform="rotate(0 670.00 366.32)"/>
<ellipse cx="645.90" cy="375.68" rx="2.2" ry="2.6" fill="none" stroke="#000000" stroke-width="0.55" transform="rotate(30 645.90 375.68)"/>
<ellipse cx="678.15" cy="368.50" rx="6.25" ry="6.9" fill="none" stroke="#000000" stroke-width="0.55" transform="rotate(0 678.15 368.50)"/>
<ellipse cx="690.00" cy="372.72" rx="6.2" ry="3.0" fill="none" stroke="#000000" stroke-width="0.55" transform="rotate(-45 690.00 372.72)"/>
<ellipse cx="698.80" cy="370.80" rx="5.0" ry="3.1" fill="none" stroke="#000000" stroke-width="0.55" transform="rotate(-52 698.80 370.80)"/>
<ellipse cx="699.20" cy="376.61" rx="1.4" ry="1.4" fill="none" stroke="#000000" stroke-width="0.55" transform="rotate(0 699.20 376.61)"/>
<ellipse cx="705.50" cy="373.47" rx="3.4" ry="4.6" fill="none" stroke="#000000" stroke-width="0.55" transform="rotate(10 705.50 373.47)"/>
<ellipse cx="675.00" cy="381.93" rx="5.0" ry="3.9" fill="none" stroke="#000000" stroke-width="0.55" transform="rotate(0 675.00 381.93)"/>
<ellipse cx="685.10" cy="381.66" rx="4.6" ry="3.3" fill="none" stroke="#000000" stroke-width="0.55" transform="rotate(-10 685.10 381.66)"/>
<ellipse cx="694.20" cy="380.57" rx="3.9" ry="3.0" fill="none" stroke="#000000" stroke-width="0.55" transform="rotate(15 694.20 380.57)"/>
<ellipse cx="703.90" cy="382.29" rx="5.3" ry="3.6" fill="none" stroke="#000000" stroke-width="0.55" transform="rotate(0 703.90 382.29)"/>
<ellipse cx="689.40" cy="366.11" rx="3.6" ry="2.4" fill="none" stroke="#000000" stroke-width="0.55" transform="rotate(0 689.40 366.11)"/>
<ellipse cx="707.50" cy="366.69" rx="2.6" ry="2.8" fill="none" stroke="#000000" stroke-width="0.55" transform="rotate(0 707.50 366.69)"/>
<ellipse cx="683.40" cy="376.05" rx="2.2" ry="2.6" fill="none" stroke="#000000" stroke-width="0.55" transform="rotate(30 683.40 376.05)"/>
<ellipse cx="715.65" cy="368.87" rx="6.25" ry="6.9" fill="none" stroke="#000000" stroke-width="0.55" transform="rotate(0 715.65 368.87)"/>
<ellipse cx="727.50" cy="373.09" rx="6.2" ry="3.0" fill="none" stroke="#000000" stroke-width="0.55" transform="rotate(-45 727.50 373.09)"/>
<ellipse cx="736.30" cy="371.18" rx="5.0" ry="3.1" fill="none" stroke="#000000" stroke-width="0.55" transform="rotate(-52 736.30 371.18)"/>
<ellipse cx="736.70" cy="376.98" rx="1.4" ry="1.4" fill="none" stroke="#000000" stroke-width="0.55" transform="rotate(0 736.70 376.98)"/>
<ellipse cx="743.00" cy="373.85" rx="3.4" ry="4.6" fill="none" stroke="#000000" stroke-width="0.55" transform="rotate(10 743.00 373.85)"/>
<ellipse cx="712.50" cy="382.40" rx="5.0" ry="3.9" fill="none" stroke="#000000" stroke-width="0.55" transform="rotate(0 712.50 382.40)"/>
<ellipse cx="722.60" cy="382.13" rx="4.6" ry="3.3" fill="none" stroke="#000000" stroke-width="0.55" transform="rotate(-10 722.60 382.13)"/>
<ellipse cx="731.70" cy="381.04" rx="3.9" ry="3.0" fill="none" stroke="#000000" stroke-width="0.55" transform="rotate(15 731.70 381.04)"/>
<ellipse cx="741.40" cy="382.76" rx="5.3" ry="3.6" fill="none" stroke="#000000" stroke-width="0.55" transform="rotate(0 741.40 382.76)"/>
<ellipse cx="726.90" cy="366.49" rx="3.6" ry="2.4" fill="none" stroke="#000000" stroke-width="0.55" transform="rotate(0 726.90 366.49)"/>
<ellipse cx="745.00" cy="367.07" rx="2.6" ry="2.8" fill="none" stroke="#000000" stroke-width="0.55" transform="rotate(0 745.00 367.07)"/>
<ellipse cx="720.90" cy="376.43" rx="2.2" ry="2.6" fill="none" stroke="#000000" stroke-width="0.55" transform="rotate(30 720.90 376.43)"/>
<ellipse cx="753.15" cy="369.25" rx="6.25" ry="6.9" fill="none" stroke="#000000" stroke-width="0.55" transform="rotate(0 753.15 369.25)"/>
<ellipse cx="765.00" cy="373.47" rx="6.2" ry="3.0" fill="none" stroke="#000000" stroke-width="0.55" transform="rotate(-45 765.00 373.47)"/>
<ellipse cx="773.80" cy="371.55" rx="5.0" ry="3.1" fill="none" stroke="#000000" stroke-width="0.55" transform="rotate(-52 773.80 371.55)"/>
<ellipse cx="774.20" cy="377.36" rx="1.4" ry="1.4" fill="none" stroke="#000000" stroke-width="0.55" transform="rotate(0 774.20 377.36)"/>
<ellipse cx="780.50" cy="374.22" rx="3.4" ry="4.6" fill="none" stroke="#000000" stroke-width="0.55" transform="rotate(10 780.50 374.22)"/>
<ellipse cx="750.00" cy="382.87" rx="5.0" ry="3.9" fill="none" stroke="#000000" stroke-width="0.55" transform="rotate(0 750.00 382.87)"/>
<ellipse cx="760.10" cy="382.60" rx="4.6" ry="3.3" fill="none" stroke="#000000" stroke-width="0.55" transform="rotate(-10 760.10 382.60)"/>
<ellipse cx="769.20" cy="381.51" rx="3.9" ry="3.0" fill="none" stroke="#000000" stroke-width="0.55" transform="rotate(15 769.20 381.51)"/>
<ellipse cx="778.90" cy="383.23" rx="5.3" ry="3.6" fill="none" stroke="#000000" stroke-width="0.55" transform="rotate(0 778.90 383.23)"/>
<ellipse cx="764.40" cy="366.86" rx="3.6" ry="2.4" fill="none" stroke="#000000" stroke-width="0.55" transform="rotate(0 764.40 366.86)"/>
<ellipse cx="782.50" cy="367.44" rx="2.6" ry="2.8" fill="none" stroke="#000000" stroke-width="0.55" transform="rotate(0 782.50 367.44)"/>
<ellipse cx="758.40" cy="376.80" rx="2.2" ry="2.6" fill="none" stroke="#000000" stroke-width="0.55" transform="rotate(30 758.40 376.80)"/>
<ellipse cx="790.65" cy="369.62" rx="6.25" ry="6.9" fill="none" stroke="#000000" stroke-width="0.55" transform="rotate(0 790.65 369.62)"/>
<ellipse cx="802.50" cy="373.84" rx="6.2" ry="3.0" fill="none" stroke="#000000" stroke-width="0.55" transform="rotate(-45 802.50 373.84)"/>
<ellipse cx="811.30" cy="371.93" rx="5.0" ry="3.1" fill="none" stroke="#000000" stroke-width="0.55" transform="rotate(-52 811.30 371.93)"/>
<ellipse cx="811.70" cy="377.73" rx="1.4" ry="1.4" fill="none" stroke="#000000" stroke-width="0.55" transform="rotate(0 811.70 377.73)"/>
<ellipse cx="818.00" cy="374.60" rx="3.4" ry="4.6" fill="none" stroke="#000000" stroke-width="0.55" transform="rotate(10 818.00 374.60)"/>
<ellipse cx="787.50" cy="383.34" rx="5.0" ry="3.9" fill="none" stroke="#000000" stroke-width="0.55" transform="rotate(0 787.50 383.34)"/>
<ellipse cx="797.60" cy="383.06" rx="4.6" ry="3.3" fill="none" stroke="#000000" stroke-width="0.55" transform="rotate(-10 797.60 383.06)"/>
<ellipse cx="806.70" cy="381.98" rx="3.9" ry="3.0" fill="none" stroke="#000000" stroke-width="0.55" transform="rotate(15 806.70 381.98)"/>
<ellipse cx="816.40" cy="383.70" rx="5.3" ry="3.6" fill="none" stroke="#000000" stroke-width="0.55" transform="rotate(0 816.40 383.70)"/>
<ellipse cx="801.90" cy="367.24" rx="3.6" ry="2.4" fill="none" stroke="#000000" stroke-width="0.55" transform="rotate(0 801.90 367.24)"/>
<ellipse cx="820.00" cy="367.82" rx="2.6" ry="2.8" fill="none" stroke="#000000" stroke-width="0.55" transform="rotate(0 820.00 367.82)"/>
<ellipse cx="795.90" cy="377.18" rx="2.2" ry="2.6" fill="none" stroke="#000000" stroke-width="0.55" transform="rotate(30 795.90 377.18)"/>
<g clip-path="url(#cWallV)">
<ellipse cx="523.00" cy="219.00" rx="4.6" ry="3.4" fill="none" stroke="#000000" stroke-width="0.55" transform="rotate(-10 523.00 219.00)"/>
<ellipse cx="523.20" cy="230.00" rx="4.9" ry="6.4" fill="none" stroke="#000000" stroke-width="0.55" transform="rotate(12 523.20 230.00)"/>
<ellipse cx="519.60" cy="242.60" rx="1.4" ry="1.4" fill="none" stroke="#000000" stroke-width="0.55" transform="rotate(0 519.60 242.60)"/>
<ellipse cx="525.00" cy="240.40" rx="3.1" ry="2.7" fill="none" stroke="#000000" stroke-width="0.55" transform="rotate(-15 525.00 240.40)"/>
<ellipse cx="520.00" cy="252.60" rx="3.3" ry="6.2" fill="none" stroke="#000000" stroke-width="0.55" transform="rotate(-22 520.00 252.60)"/>
<ellipse cx="526.30" cy="252.00" rx="3.1" ry="6.4" fill="none" stroke="#000000" stroke-width="0.55" transform="rotate(22 526.30 252.00)"/>
<ellipse cx="523.10" cy="246.00" rx="2.0" ry="1.6" fill="none" stroke="#000000" stroke-width="0.55" transform="rotate(0 523.10 246.00)"/>
<ellipse cx="523.00" cy="256.70" rx="4.6" ry="3.4" fill="none" stroke="#000000" stroke-width="0.55" transform="rotate(-10 523.00 256.70)"/>
<ellipse cx="523.20" cy="267.70" rx="4.9" ry="6.4" fill="none" stroke="#000000" stroke-width="0.55" transform="rotate(12 523.20 267.70)"/>
<ellipse cx="519.60" cy="280.30" rx="1.4" ry="1.4" fill="none" stroke="#000000" stroke-width="0.55" transform="rotate(0 519.60 280.30)"/>
<ellipse cx="525.00" cy="278.10" rx="3.1" ry="2.7" fill="none" stroke="#000000" stroke-width="0.55" transform="rotate(-15 525.00 278.10)"/>
<ellipse cx="520.00" cy="290.30" rx="3.3" ry="6.2" fill="none" stroke="#000000" stroke-width="0.55" transform="rotate(-22 520.00 290.30)"/>
<ellipse cx="526.30" cy="289.70" rx="3.1" ry="6.4" fill="none" stroke="#000000" stroke-width="0.55" transform="rotate(22 526.30 289.70)"/>
<ellipse cx="523.10" cy="283.70" rx="2.0" ry="1.6" fill="none" stroke="#000000" stroke-width="0.55" transform="rotate(0 523.10 283.70)"/>
<ellipse cx="523.00" cy="294.40" rx="4.6" ry="3.4" fill="none" stroke="#000000" stroke-width="0.55" transform="rotate(-10 523.00 294.40)"/>
<ellipse cx="523.20" cy="305.40" rx="4.9" ry="6.4" fill="none" stroke="#000000" stroke-width="0.55" transform="rotate(12 523.20 305.40)"/>
<ellipse cx="519.60" cy="318.00" rx="1.4" ry="1.4" fill="none" stroke="#000000" stroke-width="0.55" transform="rotate(0 519.60 318.00)"/>
<ellipse cx="525.00" cy="315.80" rx="3.1" ry="2.7" fill="none" stroke="#000000" stroke-width="0.55" transform="rotate(-15 525.00 315.80)"/>
<ellipse cx="520.00" cy="328.00" rx="3.3" ry="6.2" fill="none" stroke="#000000" stroke-width="0.55" transform="rotate(-22 520.00 328.00)"/>
<ellipse cx="526.30" cy="327.40" rx="3.1" ry="6.4" fill="none" stroke="#000000" stroke-width="0.55" transform="rotate(22 526.30 327.40)"/>
<ellipse cx="523.10" cy="321.40" rx="2.0" ry="1.6" fill="none" stroke="#000000" stroke-width="0.55" transform="rotate(0 523.10 321.40)"/>
<ellipse cx="523.00" cy="332.10" rx="4.6" ry="3.4" fill="none" stroke="#000000" stroke-width="0.55" transform="rotate(-10 523.00 332.10)"/>
<ellipse cx="523.20" cy="343.10" rx="4.9" ry="6.4" fill="none" stroke="#000000" stroke-width="0.55" transform="rotate(12 523.20 343.10)"/>
<ellipse cx="519.60" cy="355.70" rx="1.4" ry="1.4" fill="none" stroke="#000000" stroke-width="0.55" transform="rotate(0 519.60 355.70)"/>
<ellipse cx="525.00" cy="353.50" rx="3.1" ry="2.7" fill="none" stroke="#000000" stroke-width="0.55" transform="rotate(-15 525.00 353.50)"/>
<ellipse cx="520.00" cy="365.70" rx="3.3" ry="6.2" fill="none" stroke="#000000" stroke-width="0.55" transform="rotate(-22 520.00 365.70)"/>
<ellipse cx="526.30" cy="365.10" rx="3.1" ry="6.4" fill="none" stroke="#000000" stroke-width="0.55" transform="rotate(22 526.30 365.10)"/>
<ellipse cx="523.10" cy="359.10" rx="2.0" ry="1.6" fill="none" stroke="#000000" stroke-width="0.55" transform="rotate(0 523.10 359.10)"/>
<ellipse cx="523.00" cy="369.80" rx="4.6" ry="3.4" fill="none" stroke="#000000" stroke-width="0.55" transform="rotate(-10 523.00 369.80)"/>
<ellipse cx="523.20" cy="380.80" rx="4.9" ry="6.4" fill="none" stroke="#000000" stroke-width="0.55" transform="rotate(12 523.20 380.80)"/>
<ellipse cx="519.60" cy="393.40" rx="1.4" ry="1.4" fill="none" stroke="#000000" stroke-width="0.55" transform="rotate(0 519.60 393.40)"/>
<ellipse cx="525.00" cy="391.20" rx="3.1" ry="2.7" fill="none" stroke="#000000" stroke-width="0.55" transform="rotate(-15 525.00 391.20)"/>
<ellipse cx="520.00" cy="403.40" rx="3.3" ry="6.2" fill="none" stroke="#000000" stroke-width="0.55" transform="rotate(-22 520.00 403.40)"/>
<ellipse cx="526.30" cy="402.80" rx="3.1" ry="6.4" fill="none" stroke="#000000" stroke-width="0.55" transform="rotate(22 526.30 402.80)"/>
<ellipse cx="523.10" cy="396.80" rx="2.0" ry="1.6" fill="none" stroke="#000000" stroke-width="0.55" transform="rotate(0 523.10 396.80)"/>
</g>
</g>
<polyline points="517.70,215.20 517.70,381.30 783.00,384.48" stroke="#000000" stroke-width="0.8" fill="none" />
<polyline points="528.40,215.20 528.40,364.50 783.00,367.05" stroke="#000000" stroke-width="0.8" fill="none" />
<line x1="783.00" y1="356.50" x2="783.00" y2="397.50" stroke="#000000" stroke-width="0.8" />
<polyline points="783.20,372.60 781.60,374.50 793.80,376.00 774.80,378.50 783.20,380.40" stroke="#000000" stroke-width="0.7" fill="#fff" />
<polygon points="783.40,374.70 793.80,376.00 783.40,377.40" stroke="#000000" stroke-width="0.4" fill="#222" />
<line x1="528.40" y1="359.00" x2="783.00" y2="359.50" stroke="#0000ff" stroke-width="0.9" />
<circle cx="609.7" cy="283.4" r="69.3" fill="none" stroke="#ff0000" stroke-width="0.9"/>
<circle cx="609.7" cy="283.4" r="67.5" fill="none" stroke="#ff0000" stroke-width="0.9"/>
<circle cx="609.7" cy="283.4" r="57.3" fill="none" stroke="#ff0000" stroke-width="0.9"/>
<circle cx="609.7" cy="283.4" r="55.4" fill="none" stroke="#ff0000" stroke-width="0.9"/>
<line x1="614.20" y1="283.40" x2="665.10" y2="283.40" stroke="#ffb4b4" stroke-width="1.6" />
<line x1="614.20" y1="282.30" x2="665.10" y2="282.30" stroke="#ff0000" stroke-width="0.95" />
<line x1="614.20" y1="284.50" x2="665.10" y2="284.50" stroke="#ff0000" stroke-width="0.95" />
<line x1="612.88" y1="280.22" x2="648.87" y2="244.23" stroke="#ffb4b4" stroke-width="1.6" />
<line x1="612.10" y1="279.44" x2="648.10" y2="243.45" stroke="#ff0000" stroke-width="0.95" />
<line x1="613.66" y1="281.00" x2="649.65" y2="245.00" stroke="#ff0000" stroke-width="0.95" />
<line x1="609.70" y1="278.90" x2="609.70" y2="228.00" stroke="#ffb4b4" stroke-width="1.6" />
<line x1="608.60" y1="278.90" x2="608.60" y2="228.00" stroke="#ff0000" stroke-width="0.95" />
<line x1="610.80" y1="278.90" x2="610.80" y2="228.00" stroke="#ff0000" stroke-width="0.95" />
<line x1="606.52" y1="280.22" x2="570.53" y2="244.23" stroke="#ffb4b4" stroke-width="1.6" />
<line x1="605.74" y1="281.00" x2="569.75" y2="245.00" stroke="#ff0000" stroke-width="0.95" />
<line x1="607.30" y1="279.44" x2="571.30" y2="243.45" stroke="#ff0000" stroke-width="0.95" />
<line x1="605.20" y1="283.40" x2="554.30" y2="283.40" stroke="#ffb4b4" stroke-width="1.6" />
<line x1="605.20" y1="284.50" x2="554.30" y2="284.50" stroke="#ff0000" stroke-width="0.95" />
<line x1="605.20" y1="282.30" x2="554.30" y2="282.30" stroke="#ff0000" stroke-width="0.95" />
<line x1="606.52" y1="286.58" x2="570.53" y2="322.57" stroke="#ffb4b4" stroke-width="1.6" />
<line x1="607.30" y1="287.36" x2="571.30" y2="323.35" stroke="#ff0000" stroke-width="0.95" />
<line x1="605.74" y1="285.80" x2="569.75" y2="321.80" stroke="#ff0000" stroke-width="0.95" />
<line x1="609.70" y1="287.90" x2="609.70" y2="338.80" stroke="#ffb4b4" stroke-width="1.6" />
<line x1="610.80" y1="287.90" x2="610.80" y2="338.80" stroke="#ff0000" stroke-width="0.95" />
<line x1="608.60" y1="287.90" x2="608.60" y2="338.80" stroke="#ff0000" stroke-width="0.95" />
<line x1="612.88" y1="286.58" x2="648.87" y2="322.57" stroke="#ffb4b4" stroke-width="1.6" />
<line x1="613.66" y1="285.80" x2="649.65" y2="321.80" stroke="#ff0000" stroke-width="0.95" />
<line x1="612.10" y1="287.36" x2="648.10" y2="323.35" stroke="#ff0000" stroke-width="0.95" />
<circle cx="609.7" cy="283.4" r="4.7" fill="#fff" stroke="#ff5050" stroke-width="0.6"/>
<polygon points="602.68,226.23 604.68,226.02 606.69,225.88 608.69,225.81 610.71,225.81 610.70,226.11 611.24,225.48 611.75,224.78 612.21,224.00 612.63,223.15 613.02,222.21 613.36,221.21 613.66,220.12 613.93,218.96 612.05,220.29 610.18,221.60 608.30,222.86 606.43,224.21 604.55,225.23" fill="#9999ff" stroke="none"/>
<polyline points="613.93,218.96 612.05,220.29 610.18,221.60 608.30,222.86 606.43,224.21 604.55,225.23 602.68,226.23" stroke="#0000ff" stroke-width="0.9" fill="none" />
<polygon points="612.71,225.88 615.97,226.14 619.21,226.59 622.41,227.22 625.58,228.03 625.49,228.32 626.26,227.80 626.99,227.17 627.71,226.45 628.40,225.61 629.07,224.68 629.72,223.64 630.34,222.49 630.94,221.25 627.90,222.40 624.86,222.37 621.83,223.53 618.79,224.73 615.75,225.24" fill="#9999ff" stroke="none"/>
<polyline points="630.94,221.25 627.90,222.40 624.86,222.37 621.83,223.53 618.79,224.73 615.75,225.24 612.71,225.88" stroke="#0000ff" stroke-width="0.9" fill="none" />
<polygon points="630.81,229.81 633.01,230.73 635.18,231.74 637.29,232.84 639.37,234.03 639.21,234.28 640.13,233.96 641.05,233.52 641.97,232.96 642.90,232.28 643.83,231.49 644.77,230.58 645.71,229.56 646.66,228.41 644.02,229.01 641.38,228.53 638.74,229.08 636.09,229.11 633.45,229.61" fill="#9999ff" stroke="none"/>
<polyline points="646.66,228.41 644.02,229.01 641.38,228.53 638.74,229.08 636.09,229.11 633.45,229.61 630.81,229.81" stroke="#0000ff" stroke-width="0.9" fill="none" />
<polygon points="643.56,236.80 645.56,238.32 647.49,239.93 649.35,241.62 651.13,243.39 650.92,243.60 652.04,243.50 653.21,243.25 654.42,242.85 655.68,242.31 656.98,241.61 658.34,240.77 659.74,239.78 661.18,238.63 658.25,238.40 655.31,237.58 652.37,237.46 649.43,237.21 646.49,237.48" fill="#9999ff" stroke="none"/>
<polyline points="661.18,238.63 658.25,238.40 655.31,237.58 652.37,237.46 649.43,237.21 646.49,237.48 643.56,236.80" stroke="#0000ff" stroke-width="0.9" fill="none" />
<polygon points="656.65,250.03 657.56,251.36 658.44,252.71 659.28,254.08 660.08,255.47 659.82,255.62 660.96,255.82 662.19,255.88 663.51,255.80 664.92,255.57 666.42,255.21 668.01,254.71 669.68,254.07 671.45,253.28 668.98,252.98 666.52,251.89 664.05,251.93 661.58,250.79 659.12,250.68" fill="#9999ff" stroke="none"/>
<polyline points="671.45,253.28 668.98,252.98 666.52,251.89 664.05,251.93 661.58,250.79 659.12,250.68 656.65,250.03" stroke="#0000ff" stroke-width="0.9" fill="none" />
<path d="M664.23,265.15 L665.30,269.54 Q669.26,271.71 677.14,270.29 Q671.36,265.16 664.23,265.15 Z" stroke="none" stroke-width="0" fill="#9999ff" />
<path d="M677.14,270.29 Q671.36,265.16 664.23,265.15" stroke="#0000ff" stroke-width="1.1" fill="none" />
<path d="M667.12,280.39 L666.99,284.40 Q670.26,287.53 678.23,288.19 Q673.99,282.05 667.12,280.39 Z" stroke="none" stroke-width="0" fill="#9999ff" />
<path d="M678.23,288.19 Q673.99,282.05 667.12,280.39" stroke="#0000ff" stroke-width="1.1" fill="none" />
<path d="M665.77,296.14 L664.78,299.19 Q667.13,303.06 674.66,305.77 Q672.02,299.22 665.77,296.14 Z" stroke="none" stroke-width="0" fill="#9999ff" />
<path d="M674.66,305.77 Q672.02,299.22 665.77,296.14" stroke="#0000ff" stroke-width="1.1" fill="none" />
<path d="M660.28,310.75 L658.82,312.91 Q660.08,317.26 666.65,321.82 Q665.63,315.13 660.28,310.75 Z" stroke="none" stroke-width="0" fill="#9999ff" />
<path d="M666.65,321.82 Q665.63,315.13 660.28,310.75" stroke="#0000ff" stroke-width="1.1" fill="none" />
<path d="M666.99,284.40 Q670.26,287.53 678.23,288.19" stroke="#ff0000" stroke-width="1.05" fill="none" />
<path d="M665.30,269.54 Q669.26,271.71 677.14,270.29" stroke="#ff0000" stroke-width="1.05" fill="none" />
<path d="M659.82,255.62 Q664.21,256.70 671.45,253.28" stroke="#ff0000" stroke-width="1.05" fill="none" />
<path d="M650.92,243.60 Q655.44,243.50 661.55,238.33" stroke="#ff0000" stroke-width="1.05" fill="none" />
<path d="M639.21,234.28 Q643.56,233.02 648.12,226.45" stroke="#ff0000" stroke-width="1.05" fill="none" />
<path d="M625.49,228.32 Q629.36,225.97 632.07,218.44" stroke="#ff0000" stroke-width="1.05" fill="none" />
<path d="M610.70,226.11 Q613.83,222.84 614.49,214.87" stroke="#ff0000" stroke-width="1.05" fill="none" />
<path d="M595.84,227.80 Q598.01,223.84 596.59,215.96" stroke="#ff0000" stroke-width="1.05" fill="none" />
<path d="M581.92,233.28 Q583.00,228.89 579.58,221.65" stroke="#ff0000" stroke-width="1.05" fill="none" />
<path d="M569.90,242.18 Q569.80,237.66 564.63,231.55" stroke="#ff0000" stroke-width="1.05" fill="none" />
<path d="M560.58,253.89 Q559.32,249.54 552.75,244.98" stroke="#ff0000" stroke-width="1.05" fill="none" />
<path d="M554.62,267.61 Q552.27,263.74 544.74,261.03" stroke="#ff0000" stroke-width="1.05" fill="none" />
<path d="M552.41,282.40 Q549.14,279.27 541.17,278.61" stroke="#ff0000" stroke-width="1.05" fill="none" />
<path d="M554.10,297.26 Q550.14,295.09 542.26,296.51" stroke="#ff0000" stroke-width="1.05" fill="none" />
<path d="M559.58,311.18 Q555.19,310.10 547.95,313.52" stroke="#ff0000" stroke-width="1.05" fill="none" />
<path d="M568.48,323.20 Q563.96,323.30 557.85,328.47" stroke="#ff0000" stroke-width="1.05" fill="none" />
<path d="M580.19,332.52 Q575.84,333.78 571.28,340.35" stroke="#ff0000" stroke-width="1.05" fill="none" />
<path d="M593.91,338.48 Q590.04,340.83 587.33,348.36" stroke="#ff0000" stroke-width="1.05" fill="none" />
<path d="M608.70,340.69 Q605.57,343.96 604.91,351.93" stroke="#ff0000" stroke-width="1.05" fill="none" />
<path d="M623.56,339.00 Q621.39,342.96 622.81,350.84" stroke="#ff0000" stroke-width="1.05" fill="none" />
<path d="M637.48,333.52 Q636.40,337.91 639.82,345.15" stroke="#ff0000" stroke-width="1.05" fill="none" />
<path d="M649.50,324.62 Q649.60,329.14 654.77,335.25" stroke="#ff0000" stroke-width="1.05" fill="none" />
<path d="M658.82,312.91 Q660.08,317.26 666.65,321.82" stroke="#ff0000" stroke-width="1.05" fill="none" />
<path d="M664.78,299.19 Q667.13,303.06 674.66,305.77" stroke="#ff0000" stroke-width="1.05" fill="none" />
<path d="M598,205.9 L600.5,206.0 Q604.2,206.8 607.0,212.0 L610.8,219.0" stroke="#2c2cff" stroke-width="2.5" fill="none" stroke-linecap="butt"/>
<path d="M598,205.9 L600.5,206.0 Q604.2,206.8 607.0,212.0 L610.8,219.0" stroke="#7070ff" stroke-width="0.9" fill="none" stroke-linecap="butt"/>
<line x1="598.00" y1="205.10" x2="612.40" y2="205.10" stroke="#0000ff" stroke-width="0.75" />
<polygon points="640.90,343.80 641.00,359.30 645.80,359.30 645.20,350.00 643.80,344.00" fill="#9999ff" stroke="none"/>
<polyline points="640.90,343.80 641.00,359.30" stroke="#0000ff" stroke-width="0.9" fill="none" />
<polyline points="643.80,344.00 645.20,350.00 645.80,359.30" stroke="#0000ff" stroke-width="0.9" fill="none" />
<polygon points="654.60,331.60 655.30,340.00 656.00,359.30 662.80,359.30 661.90,340.00 660.00,331.40" fill="#9999ff" stroke="none"/>
<polyline points="654.60,331.60 655.30,340.00 656.00,359.30" stroke="#0000ff" stroke-width="0.9" fill="none" />
<polyline points="660.00,331.40 661.90,340.00 662.80,359.30" stroke="#0000ff" stroke-width="0.9" fill="none" />
<polygon points="667.80,319.50 670.80,359.30 673.30,359.30 668.60,319.00" fill="#b9b9ff" stroke="none"/>
<polyline points="667.80,319.50 670.80,359.30" stroke="#0000ff" stroke-width="0.9" fill="none" />
<polyline points="668.60,319.00 673.30,359.30" stroke="#0000ff" stroke-width="0.9" fill="none" />
<polygon points="675.70,302.70 679.60,359.30 681.60,359.30 676.30,302.60" fill="#c9c9ff" stroke="none"/>
<polyline points="675.70,302.70 679.60,359.30" stroke="#0000ff" stroke-width="0.9" fill="none" />
<polyline points="676.30,302.60 681.60,359.30" stroke="#0000ff" stroke-width="0.9" fill="none" />
<polygon points="678.70,287.90 683.60,359.30 685.60,359.30 679.30,288.00" fill="#c9c9ff" stroke="none"/>
<polyline points="678.70,287.90 683.60,359.30" stroke="#0000ff" stroke-width="0.9" fill="none" />
<polyline points="679.30,288.00 685.60,359.30" stroke="#0000ff" stroke-width="0.9" fill="none" />
<text x="92.00" y="135.40" font-size="5.4" fill="#ff0000" text-anchor="start" textLength="14.8" lengthAdjust="spacingAndGlyphs" font-weight="bold" stroke="#ff0000" stroke-width="0.22">450.500</text>
<polyline points="107.00,136.10 89.60,136.10 88.60,140.30" stroke="#ff0000" stroke-width="0.7" fill="none" />
<polygon points="87.30,140.60 89.90,140.60 88.60,138.80" stroke="#ff0000" stroke-width="0.3" fill="#ff0000" />
<text x="116.00" y="142.40" font-size="5.4" fill="#ff0000" text-anchor="start" textLength="14.8" lengthAdjust="spacingAndGlyphs" font-weight="bold" stroke="#ff0000" stroke-width="0.22">450.300</text>
<polyline points="131.00,143.30 113.40,143.30 112.60,146.50" stroke="#ff0000" stroke-width="0.7" fill="none" />
<polygon points="111.30,146.80 113.90,146.80 112.60,145.00" stroke="#ff0000" stroke-width="0.3" fill="#ff0000" />
<text x="118.20" y="146.40" font-size="5.4" fill="#ff0000" text-anchor="start" textLength="14.8" lengthAdjust="spacingAndGlyphs" font-weight="bold" stroke="#ff0000" stroke-width="0.22">450.200</text>
<polyline points="133.00,146.90 116.00,146.90 114.80,151.00" stroke="#ff0000" stroke-width="0.7" fill="none" />
<polyline points="116.70,149.50 114.80,151.00 116.70,152.30" stroke="#ff0000" stroke-width="0.7" fill="none" />
<polygon points="116.50,149.80 115.00,151.00 116.50,152.00" stroke="#ff0000" stroke-width="0.3" fill="#ff0000" />
<text x="116.00" y="159.60" font-size="5.4" fill="#ff0000" text-anchor="start" textLength="14.8" lengthAdjust="spacingAndGlyphs" font-weight="bold" stroke="#ff0000" stroke-width="0.22">449.800</text>
<polyline points="131.20,160.20 113.40,160.20 113.00,164.40" stroke="#ff0000" stroke-width="0.7" fill="none" />
<polyline points="114.90,162.90 113.00,164.40 114.90,165.70" stroke="#ff0000" stroke-width="0.7" fill="none" />
<polygon points="114.70,163.20 113.20,164.40 114.70,165.40" stroke="#ff0000" stroke-width="0.3" fill="#ff0000" />
<text x="116.00" y="176.80" font-size="5.4" fill="#ff0000" text-anchor="start" textLength="14.8" lengthAdjust="spacingAndGlyphs" font-weight="bold" stroke="#ff0000" stroke-width="0.22">449.300</text>
<polyline points="131.20,177.60 113.40,177.60 113.00,181.90" stroke="#ff0000" stroke-width="0.7" fill="none" />
<polyline points="114.90,180.40 113.00,181.90 114.90,183.20" stroke="#ff0000" stroke-width="0.7" fill="none" />
<polygon points="114.70,180.70 113.20,181.90 114.70,182.90" stroke="#ff0000" stroke-width="0.3" fill="#ff0000" />
<text x="74.20" y="188.70" font-size="5.4" fill="#0000ff" text-anchor="start" textLength="14.8" lengthAdjust="spacingAndGlyphs" font-weight="bold" stroke="#0000ff" stroke-width="0.22">448.954</text>
<polyline points="89.30,189.50 71.30,189.50 71.00,193.60" stroke="#0000ff" stroke-width="0.7" fill="none" />
<polygon points="69.70,193.90 72.30,193.90 71.00,192.10" stroke="#0000ff" stroke-width="0.3" fill="#0000ff" />
<text x="92.00" y="193.80" font-size="5.4" fill="#ff0000" text-anchor="start" textLength="14.8" lengthAdjust="spacingAndGlyphs" font-weight="bold" stroke="#ff0000" stroke-width="0.22">448.800</text>
<polyline points="106.80,194.40 90.50,194.40 89.90,199.50" stroke="#ff0000" stroke-width="0.7" fill="none" />
<polygon points="88.60,199.80 91.20,199.80 89.90,198.00" stroke="#ff0000" stroke-width="0.3" fill="#ff0000" />
<text x="74.20" y="239.20" font-size="5.4" fill="#ff0000" text-anchor="start" textLength="14.8" lengthAdjust="spacingAndGlyphs" font-weight="bold" stroke="#ff0000" stroke-width="0.22">447.500</text>
<polyline points="89.60,240.30 71.70,240.30 71.40,243.90" stroke="#ff0000" stroke-width="0.7" fill="none" />
<polygon points="70.10,244.20 72.70,244.20 71.40,242.40" stroke="#ff0000" stroke-width="0.3" fill="#ff0000" />
<text x="473.60" y="147.80" font-size="5.4" fill="#ff0000" text-anchor="start" textLength="14.8" lengthAdjust="spacingAndGlyphs" font-weight="bold" stroke="#ff0000" stroke-width="0.22">450.135</text>
<polyline points="488.40,148.50 471.80,148.50 470.80,152.60" stroke="#ff0000" stroke-width="0.7" fill="none" />
<polyline points="472.70,151.10 470.80,152.60 472.70,153.90" stroke="#ff0000" stroke-width="0.7" fill="none" />
<polygon points="472.50,151.40 471.00,152.60 472.50,153.60" stroke="#ff0000" stroke-width="0.3" fill="#ff0000" />
<text x="476.00" y="163.60" font-size="5.4" fill="#ff0000" text-anchor="start" textLength="14.8" lengthAdjust="spacingAndGlyphs" font-weight="bold" stroke="#ff0000" stroke-width="0.22">449.635</text>
<polyline points="491.00,164.60 474.00,164.60 472.80,168.40" stroke="#ff0000" stroke-width="0.7" fill="none" />
<polyline points="474.70,166.90 472.80,168.40 474.70,169.70" stroke="#ff0000" stroke-width="0.7" fill="none" />
<polygon points="474.50,167.20 473.00,168.40 474.50,169.40" stroke="#ff0000" stroke-width="0.3" fill="#ff0000" />
<text x="476.00" y="185.70" font-size="5.4" fill="#ff0000" text-anchor="start" textLength="14.8" lengthAdjust="spacingAndGlyphs" font-weight="bold" stroke="#ff0000" stroke-width="0.22">448.635</text>
<polyline points="491.60,186.40 474.00,186.40 472.00,191.50" stroke="#ff0000" stroke-width="0.7" fill="none" />
<polygon points="470.70,191.80 473.30,191.80 472.00,190.00" stroke="#ff0000" stroke-width="0.3" fill="#ff0000" />
<text x="473.20" y="199.60" font-size="5.4" fill="#ff0000" text-anchor="start" textLength="14.8" lengthAdjust="spacingAndGlyphs" font-weight="bold" stroke="#ff0000" stroke-width="0.22">448.635</text>
<polyline points="488.20,200.30 470.20,200.30 470.20,204.20" stroke="#ff0000" stroke-width="0.7" fill="none" />
<polygon points="468.90,204.50 471.50,204.50 470.20,202.70" stroke="#ff0000" stroke-width="0.3" fill="#ff0000" />
<text x="492.40" y="198.20" font-size="5.4" fill="#0000ff" text-anchor="start" textLength="14.8" lengthAdjust="spacingAndGlyphs" font-weight="bold" stroke="#0000ff" stroke-width="0.22">448.635</text>
<polyline points="508.00,198.90 489.40,198.90 489.20,204.00" stroke="#0000ff" stroke-width="0.7" fill="none" />
<polygon points="487.90,204.30 490.50,204.30 489.20,202.50" stroke="#0000ff" stroke-width="0.3" fill="#0000ff" />
<text x="451.50" y="189.00" font-size="5.4" fill="#0000ff" text-anchor="start" textLength="14.8" lengthAdjust="spacingAndGlyphs" font-weight="bold" stroke="#0000ff" stroke-width="0.22">448.954</text>
<polyline points="465.80,189.70 447.90,189.70 447.60,193.80" stroke="#0000ff" stroke-width="0.7" fill="none" />
<polygon points="446.30,194.10 448.90,194.10 447.60,192.30" stroke="#0000ff" stroke-width="0.3" fill="#0000ff" />
<text x="600.70" y="187.60" font-size="5.4" fill="#ff0000" text-anchor="start" textLength="14.8" lengthAdjust="spacingAndGlyphs" font-weight="bold" stroke="#ff0000" stroke-width="0.22">448.985</text>
<polyline points="615.80,188.30 597.90,188.30 597.70,192.20" stroke="#ff0000" stroke-width="0.7" fill="none" />
<polygon points="596.40,192.50 599.00,192.50 597.70,190.70" stroke="#ff0000" stroke-width="0.3" fill="#ff0000" />
<text x="593.40" y="201.50" font-size="5.4" fill="#ff0000" text-anchor="start" textLength="14.8" lengthAdjust="spacingAndGlyphs" font-weight="bold" stroke="#ff0000" stroke-width="0.22">448.585</text>
<polyline points="608.60,202.00 590.40,202.00 590.30,205.60" stroke="#ff0000" stroke-width="0.7" fill="none" />
<polygon points="589.00,205.90 591.60,205.90 590.30,204.10" stroke="#ff0000" stroke-width="0.3" fill="#ff0000" />
<text x="613.50" y="199.60" font-size="5.4" fill="#0000ff" text-anchor="start" textLength="14.8" lengthAdjust="spacingAndGlyphs" font-weight="bold" stroke="#0000ff" stroke-width="0.22">448.572</text>
<polyline points="629.20,200.30 610.00,200.30 609.70,204.90" stroke="#0000ff" stroke-width="0.7" fill="none" />
<polygon points="608.40,205.20 611.00,205.20 609.70,203.40" stroke="#0000ff" stroke-width="0.3" fill="#0000ff" />
<text x="628.80" y="208.20" font-size="5.4" fill="#ff0000" text-anchor="start" textLength="14.8" lengthAdjust="spacingAndGlyphs" font-weight="bold" stroke="#ff0000" stroke-width="0.22">448.390</text>
<polyline points="644.90,208.90 626.00,208.90 625.70,213.60" stroke="#ff0000" stroke-width="0.7" fill="none" />
<polygon points="624.40,213.90 627.00,213.90 625.70,212.10" stroke="#ff0000" stroke-width="0.3" fill="#ff0000" />
<line x1="618.70" y1="214.10" x2="628.50" y2="214.10" stroke="#ff0000" stroke-width="0.7" />
<text x="697.90" y="277.80" font-size="5.4" fill="#ff0000" text-anchor="start" textLength="14.8" lengthAdjust="spacingAndGlyphs" font-weight="bold" stroke="#ff0000" stroke-width="0.22">446.390</text>
<polyline points="713.60,278.50 695.00,278.50 695.00,283.00" stroke="#ff0000" stroke-width="0.7" fill="none" />
<polygon points="693.70,283.30 696.30,283.30 695.00,281.50" stroke="#ff0000" stroke-width="0.3" fill="#ff0000" />
<line x1="688.00" y1="283.30" x2="697.80" y2="283.30" stroke="#ff0000" stroke-width="0.75" />
<text x="651.60" y="347.40" font-size="5.4" fill="#ff0000" text-anchor="start" textLength="14.8" lengthAdjust="spacingAndGlyphs" font-weight="bold" stroke="#ff0000" stroke-width="0.22">446.390</text>
<polyline points="666.00,348.00 648.40,348.00 648.00,352.80" stroke="#ff0000" stroke-width="0.7" fill="none" />
<polygon points="646.70,353.10 649.30,353.10 648.00,351.30" stroke="#ff0000" stroke-width="0.3" fill="#ff0000" />
<line x1="632.40" y1="353.30" x2="652.90" y2="353.30" stroke="#ff0000" stroke-width="0.75" />
<text x="257.90" y="61.70" font-size="8.0" fill="#ff0000" text-anchor="start" textLength="9.5" lengthAdjust="spacingAndGlyphs" stroke="#ff0000" stroke-width="0.12">PF1</text>
<text x="253.50" y="67.80" font-size="7.9" fill="#ff0000" text-anchor="start" textLength="12.1" lengthAdjust="spacingAndGlyphs" stroke="#ff0000" stroke-width="0.12">5,00</text>
<text x="269.10" y="67.80" font-size="7.9" fill="#ff0000" text-anchor="start" textLength="5.3" lengthAdjust="spacingAndGlyphs" stroke="#ff0000" stroke-width="0.12">m</text>
<line x1="262.80" y1="70.00" x2="262.80" y2="83.80" stroke="#ff0000" stroke-width="0.8" />
<line x1="262.80" y1="88.50" x2="262.80" y2="89.50" stroke="#ff0000" stroke-width="0.8" />
<line x1="262.80" y1="94.40" x2="262.80" y2="108.80" stroke="#ff0000" stroke-width="0.8" />
<text x="462.00" y="61.70" font-size="8.0" fill="#ff0000" text-anchor="start" textLength="10.6" lengthAdjust="spacingAndGlyphs" stroke="#ff0000" stroke-width="0.12">PF2</text>
<text x="458.00" y="67.80" font-size="7.9" fill="#ff0000" text-anchor="start" textLength="15.6" lengthAdjust="spacingAndGlyphs" stroke="#ff0000" stroke-width="0.12">11,00</text>
<text x="476.80" y="67.80" font-size="7.9" fill="#ff0000" text-anchor="start" textLength="5.2" lengthAdjust="spacingAndGlyphs" stroke="#ff0000" stroke-width="0.12">m</text>
<line x1="467.50" y1="70.00" x2="467.50" y2="83.80" stroke="#ff0000" stroke-width="0.8" />
<line x1="467.50" y1="88.50" x2="467.50" y2="89.50" stroke="#ff0000" stroke-width="0.8" />
<line x1="467.50" y1="94.40" x2="467.50" y2="108.80" stroke="#ff0000" stroke-width="0.8" />
<text x="591.30" y="61.70" font-size="8.0" fill="#ff0000" text-anchor="start" textLength="10.7" lengthAdjust="spacingAndGlyphs" stroke="#ff0000" stroke-width="0.12">PF3</text>
<text x="587.00" y="67.80" font-size="7.9" fill="#ff0000" text-anchor="start" textLength="15.2" lengthAdjust="spacingAndGlyphs" stroke="#ff0000" stroke-width="0.12">14,65</text>
<text x="605.30" y="67.80" font-size="7.9" fill="#ff0000" text-anchor="start" textLength="5.2" lengthAdjust="spacingAndGlyphs" stroke="#ff0000" stroke-width="0.12">m</text>
<line x1="596.80" y1="70.00" x2="596.80" y2="83.80" stroke="#ff0000" stroke-width="0.8" />
<line x1="596.80" y1="88.50" x2="596.80" y2="89.50" stroke="#ff0000" stroke-width="0.8" />
<line x1="596.80" y1="94.40" x2="596.80" y2="108.80" stroke="#ff0000" stroke-width="0.8" />
<line x1="103.80" y1="289.80" x2="473.40" y2="289.80" stroke="#404040" stroke-width="0.7" />
<line x1="87.60" y1="299.60" x2="472.40" y2="299.60" stroke="#404040" stroke-width="0.7" />
<line x1="87.60" y1="308.60" x2="530.00" y2="308.60" stroke="#404040" stroke-width="0.7" />
<line x1="89.60" y1="279.80" x2="89.60" y2="310.20" stroke="#404040" stroke-width="0.7" />
<line x1="106.30" y1="280.00" x2="106.30" y2="301.00" stroke="#404040" stroke-width="0.7" />
<line x1="108.40" y1="280.00" x2="108.40" y2="290.60" stroke="#404040" stroke-width="0.7" />
<line x1="110.50" y1="280.00" x2="110.50" y2="290.60" stroke="#404040" stroke-width="0.7" />
<line x1="283.50" y1="279.60" x2="283.50" y2="291.60" stroke="#404040" stroke-width="0.7" />
<line x1="470.90" y1="280.00" x2="470.90" y2="310.20" stroke="#404040" stroke-width="0.7" />
<line x1="468.80" y1="280.00" x2="468.80" y2="290.60" stroke="#404040" stroke-width="0.7" />
<line x1="466.70" y1="280.00" x2="466.70" y2="290.60" stroke="#404040" stroke-width="0.7" />
<line x1="104.60" y1="291.30" x2="108.00" y2="288.30" stroke="#404040" stroke-width="1.0" />
<line x1="106.70" y1="291.30" x2="110.10" y2="288.30" stroke="#404040" stroke-width="1.0" />
<line x1="108.80" y1="291.30" x2="112.20" y2="288.30" stroke="#404040" stroke-width="1.0" />
<line x1="281.80" y1="291.30" x2="285.20" y2="288.30" stroke="#404040" stroke-width="1.0" />
<line x1="465.00" y1="291.30" x2="468.40" y2="288.30" stroke="#404040" stroke-width="1.0" />
<line x1="467.10" y1="291.30" x2="470.50" y2="288.30" stroke="#404040" stroke-width="1.0" />
<line x1="469.20" y1="291.30" x2="472.60" y2="288.30" stroke="#404040" stroke-width="1.0" />
<line x1="88.10" y1="301.10" x2="91.50" y2="298.10" stroke="#404040" stroke-width="1.0" />
<line x1="104.60" y1="301.10" x2="108.00" y2="298.10" stroke="#404040" stroke-width="1.0" />
<line x1="469.20" y1="301.10" x2="472.60" y2="298.10" stroke="#404040" stroke-width="1.0" />
<line x1="88.10" y1="310.10" x2="91.50" y2="307.10" stroke="#404040" stroke-width="1.0" />
<line x1="469.20" y1="310.10" x2="472.60" y2="307.10" stroke="#404040" stroke-width="1.0" />
<line x1="526.90" y1="310.10" x2="530.30" y2="307.10" stroke="#404040" stroke-width="1.0" />
<text x="101.00" y="288.20" font-size="5.5" fill="#1c1c1c" text-anchor="middle" textLength="9.0" lengthAdjust="spacingAndGlyphs"  stroke="#1c1c1c" stroke-width="0.18">0.05</text>
<text x="116.80" y="288.20" font-size="5.5" fill="#1c1c1c" text-anchor="middle" textLength="9.0" lengthAdjust="spacingAndGlyphs"  stroke="#1c1c1c" stroke-width="0.18">0.05</text>
<text x="196.90" y="288.20" font-size="5.5" fill="#1c1c1c" text-anchor="middle" textLength="9.4" lengthAdjust="spacingAndGlyphs"  stroke="#1c1c1c" stroke-width="0.18">5.00</text>
<text x="375.40" y="288.20" font-size="5.5" fill="#1c1c1c" text-anchor="middle" textLength="9.4" lengthAdjust="spacingAndGlyphs"  stroke="#1c1c1c" stroke-width="0.18">5.30</text>
<text x="461.50" y="288.20" font-size="5.5" fill="#1c1c1c" text-anchor="middle" textLength="9.0" lengthAdjust="spacingAndGlyphs"  stroke="#1c1c1c" stroke-width="0.18">0.05</text>
<text x="477.00" y="288.20" font-size="5.5" fill="#1c1c1c" text-anchor="middle" textLength="9.0" lengthAdjust="spacingAndGlyphs"  stroke="#1c1c1c" stroke-width="0.18">0.05</text>
<text x="98.20" y="297.80" font-size="5.5" fill="#1c1c1c" text-anchor="middle" textLength="9.4" lengthAdjust="spacingAndGlyphs"  stroke="#1c1c1c" stroke-width="0.18">0.50</text>
<text x="288.60" y="297.80" font-size="5.5" fill="#1c1c1c" text-anchor="middle" textLength="12.2" lengthAdjust="spacingAndGlyphs"  stroke="#1c1c1c" stroke-width="0.18">10.50</text>
<text x="280.00" y="307.00" font-size="5.5" fill="#1c1c1c" text-anchor="middle" textLength="12.2" lengthAdjust="spacingAndGlyphs"  stroke="#1c1c1c" stroke-width="0.18">11.00</text>
<rect x="493.6" y="301.4" width="12.6" height="6.2" fill="#fff"/>
<text x="499.80" y="306.80" font-size="5.5" fill="#1c1c1c" text-anchor="middle" textLength="9.2" lengthAdjust="spacingAndGlyphs"  stroke="#1c1c1c" stroke-width="0.18">1.65</text>
<line x1="528.20" y1="396.20" x2="528.20" y2="419.70" stroke="#404040" stroke-width="0.7" />
<line x1="597.60" y1="396.20" x2="597.60" y2="410.00" stroke="#404040" stroke-width="0.7" />
<line x1="610.00" y1="397.40" x2="610.00" y2="419.70" stroke="#404040" stroke-width="0.7" />
<line x1="526.60" y1="408.30" x2="611.60" y2="408.30" stroke="#404040" stroke-width="0.7" />
<line x1="526.60" y1="418.40" x2="611.60" y2="418.40" stroke="#404040" stroke-width="0.7" />
<line x1="526.50" y1="409.80" x2="529.90" y2="406.80" stroke="#404040" stroke-width="1.0" />
<line x1="595.90" y1="409.80" x2="599.30" y2="406.80" stroke="#404040" stroke-width="1.0" />
<line x1="608.30" y1="409.80" x2="611.70" y2="406.80" stroke="#404040" stroke-width="1.0" />
<line x1="526.50" y1="419.90" x2="529.90" y2="416.90" stroke="#404040" stroke-width="1.0" />
<line x1="608.30" y1="419.90" x2="611.70" y2="416.90" stroke="#404040" stroke-width="1.0" />
<text x="563.00" y="406.60" font-size="5.5" fill="#1c1c1c" text-anchor="middle" textLength="9.4" lengthAdjust="spacingAndGlyphs"  stroke="#1c1c1c" stroke-width="0.18">2.00</text>
<text x="603.80" y="406.60" font-size="5.5" fill="#1c1c1c" text-anchor="middle" textLength="9.0" lengthAdjust="spacingAndGlyphs"  stroke="#1c1c1c" stroke-width="0.18">0.35</text>
<text x="569.20" y="417.00" font-size="5.5" fill="#1c1c1c" text-anchor="middle" textLength="9.4" lengthAdjust="spacingAndGlyphs"  stroke="#1c1c1c" stroke-width="0.18">2.35</text>
<line x1="546.60" y1="251.53" x2="693.60" y2="325.78" stroke="#404040" stroke-width="0.7" />
<line x1="554.60" y1="277.51" x2="697.40" y2="292.77" stroke="#404040" stroke-width="0.7" />
<line x1="605.20" y1="284.60" x2="614.20" y2="282.20" stroke="#404040" stroke-width="0.9" />
<line x1="614.20" y1="281.90" x2="635.00" y2="274.20" stroke="#404040" stroke-width="0.7" />
<text x="627.40" y="275.20" font-size="5.5" fill="#1c1c1c" text-anchor="middle" textLength="11.2" lengthAdjust="spacingAndGlyphs" transform="rotate(-24 627.4 275.2)" stroke="#1c1c1c" stroke-width="0.18">ø0.30</text>
<text x="691.20" y="291.00" font-size="5.5" fill="#1c1c1c" text-anchor="middle" textLength="11.8" lengthAdjust="spacingAndGlyphs" transform="rotate(6 691.2 291.0)" stroke="#1c1c1c" stroke-width="0.18">ø3.20</text>
<text x="685.00" y="319.60" font-size="5.5" fill="#1c1c1c" text-anchor="middle" textLength="11.8" lengthAdjust="spacingAndGlyphs" transform="rotate(27 685.0 319.6)" stroke="#1c1c1c" stroke-width="0.18">ø4.00</text>
<text x="663.60" y="278.00" font-size="5.5" fill="#1c1c1c" text-anchor="start" textLength="12.2" lengthAdjust="spacingAndGlyphs" stroke="#1c1c1c" stroke-width="0.15">20.37</text>
<path d="M675.8,278.7 L662.6,278.7 Q659.2,275.6 663.8,273.5 L667.6,273.2" stroke="#404040" stroke-width="0.65" fill="none" />
<path d="M675.8,278.7 L676.9,280.6 L677.9,273.9" stroke="#404040" stroke-width="0.65" fill="none" />
<text x="4.80" y="15.40" font-size="11.5" fill="#141414" text-anchor="start" textLength="44.0" lengthAdjust="spacingAndGlyphs" >PODÉLNÝ</text>
<text x="57.80" y="15.40" font-size="11.5" fill="#141414" text-anchor="start" textLength="18.8" lengthAdjust="spacingAndGlyphs" >ŘEZ</text>
<text x="85.40" y="15.40" font-size="11.5" fill="#141414" text-anchor="start" textLength="32.6" lengthAdjust="spacingAndGlyphs" >ŽLABU</text>
<text x="124.40" y="15.40" font-size="11.5" fill="#141414" text-anchor="start" textLength="5.8" lengthAdjust="spacingAndGlyphs" >S</text>
<text x="136.60" y="15.40" font-size="11.5" fill="#141414" text-anchor="start" textLength="53.4" lengthAdjust="spacingAndGlyphs" >MLÝNSKÝM</text>
<text x="198.00" y="15.40" font-size="11.5" fill="#141414" text-anchor="start" textLength="33.4" lengthAdjust="spacingAndGlyphs" >KOLEM</text>
<text x="4.90" y="26.70" font-size="6.5" fill="#222" text-anchor="start" textLength="4.1" lengthAdjust="spacingAndGlyphs" stroke="#222" stroke-width="0.2">M</text>
<text x="13.80" y="26.70" font-size="6.5" fill="#222" text-anchor="start" textLength="12.2" lengthAdjust="spacingAndGlyphs" stroke="#222" stroke-width="0.2">1:50</text></svg></body></html>
